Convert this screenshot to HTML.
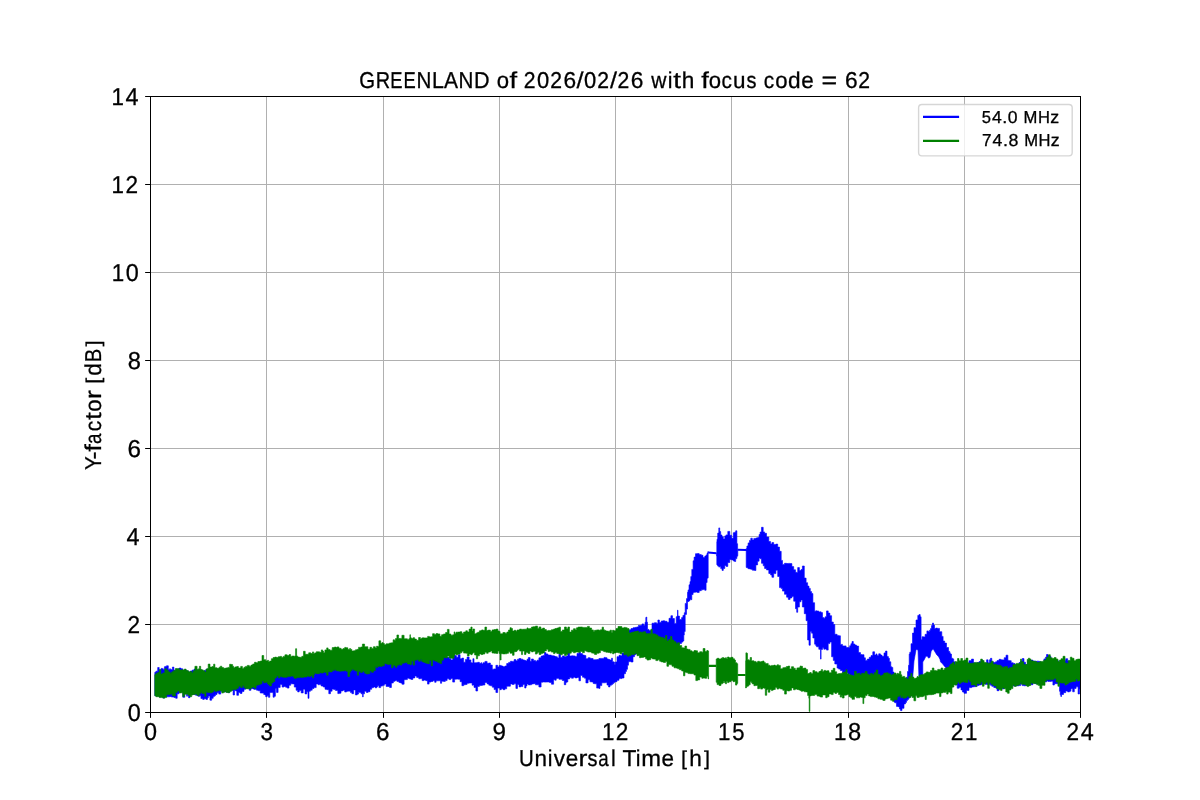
<!DOCTYPE html>
<html><head><meta charset="utf-8"><style>
html,body{margin:0;padding:0;background:#fff;}
svg{display:block;will-change:transform;}
text{font-family:"Liberation Sans",sans-serif;fill:#000;text-rendering:geometricPrecision;stroke:#000;stroke-width:0.3px;}
</style></head><body>
<svg width="1200" height="800" viewBox="0 0 1200 800">
<rect x="0" y="0" width="1200" height="800" fill="#fff"/>
<g stroke="#b0b0b0" stroke-width="1"><line x1="266.5" y1="96" x2="266.5" y2="712"/><line x1="383.5" y1="96" x2="383.5" y2="712"/><line x1="499.5" y1="96" x2="499.5" y2="712"/><line x1="615.5" y1="96" x2="615.5" y2="712"/><line x1="731.5" y1="96" x2="731.5" y2="712"/><line x1="848.5" y1="96" x2="848.5" y2="712"/><line x1="964.5" y1="96" x2="964.5" y2="712"/><line x1="150" y1="624.5" x2="1080" y2="624.5"/><line x1="150" y1="536.5" x2="1080" y2="536.5"/><line x1="150" y1="448.5" x2="1080" y2="448.5"/><line x1="150" y1="360.5" x2="1080" y2="360.5"/><line x1="150" y1="272.5" x2="1080" y2="272.5"/><line x1="150" y1="184.5" x2="1080" y2="184.5"/></g>
<path d="M154.8,672.3 155.9,672.3 155.9,671.2 157.7,671.2 157.7,667.5 159.2,667.5 159.2,670.2 161.0,670.2 161.0,668.4 162.5,668.4 162.5,668.8 163.4,668.8 163.4,669.7 164.4,669.7 164.4,666.7 165.2,666.7 165.2,666.4 166.5,666.4 166.5,665.8 168.3,665.8 168.3,669.4 169.6,669.4 169.6,668.8 170.5,668.8 170.5,669.4 171.5,669.4 171.5,669.7 172.4,669.7 172.4,667.1 173.9,667.1 173.9,670.3 175.7,670.3 175.7,669.6 177.2,669.6 177.2,669.0 179.0,669.0 179.0,668.1 181.0,668.1 181.0,668.8 182.8,668.8 182.8,671.0 184.8,671.0 184.8,670.1 186.6,670.1 186.6,671.2 187.6,671.2 187.6,671.0 188.5,671.0 188.5,672.8 190.0,672.8 190.0,671.1 192.0,671.1 192.0,670.2 194.0,670.2 194.0,669.1 195.6,669.1 195.6,669.4 197.1,669.4 197.1,670.1 198.5,670.1 198.5,669.8 199.4,669.8 199.4,669.7 200.9,669.7 200.9,670.2 202.7,670.2 202.7,671.7 204.2,671.7 204.2,670.4 206.0,670.4 206.0,669.1 207.5,669.1 207.5,669.7 208.4,669.7 208.4,670.8 209.9,670.8 209.9,669.7 211.7,669.7 211.7,669.3 213.2,669.3 213.2,669.5 214.5,669.5 214.5,669.6 215.5,669.6 215.5,670.3 217.0,670.3 217.0,669.0 218.8,669.0 218.8,670.8 220.8,670.8 220.8,668.9 222.6,668.9 222.6,669.6 224.1,669.6 224.1,670.3 225.5,670.3 225.5,668.5 226.4,668.5 226.4,670.4 227.7,670.4 227.7,670.0 229.8,670.0 229.8,669.0 231.6,669.0 231.6,667.3 233.1,667.3 233.1,669.1 234.5,669.1 234.5,668.6 235.5,668.6 235.5,668.5 236.8,668.5 236.8,669.6 238.5,669.6 238.5,670.6 240.2,670.6 240.2,669.2 242.0,669.2 242.0,669.5 244.0,669.5 244.0,668.6 245.8,668.6 245.8,668.3 247.5,668.3 247.5,672.1 249.2,672.1 249.2,675.3 251.0,675.3 251.0,679.3 252.9,679.3 252.9,680.0 254.4,680.0 254.4,681.1 255.3,681.1 255.3,681.3 256.5,681.3 256.5,682.2 258.3,682.2 258.3,682.2 260.2,682.2 260.2,679.2 262.0,679.2 262.0,679.7 263.7,679.7 263.7,678.8 264.8,678.8 264.8,678.3 265.7,678.3 265.7,675.0 267.2,675.0 267.2,676.8 268.5,676.8 268.5,676.9 269.8,676.9 269.8,676.5 271.5,676.5 271.5,675.6 273.1,675.6 273.1,675.2 274.3,675.2 274.3,674.5 275.4,674.5 275.4,673.9 276.5,673.9 276.5,675.4 278.1,675.4 278.1,673.5 280.2,673.5 280.2,673.3 282.1,673.3 282.1,672.6 283.8,672.6 283.8,672.6 285.6,672.6 285.6,672.2 287.2,672.2 287.2,672.2 289.0,672.2 289.0,672.6 290.7,672.6 290.7,672.5 292.5,672.5 292.5,672.3 294.3,672.3 294.3,672.8 296.1,672.8 296.1,671.9 297.7,671.9 297.7,672.1 299.2,672.1 299.2,672.3 301.2,672.3 301.2,671.7 303.2,671.7 303.2,671.7 305.0,671.7 305.0,671.7 306.8,671.7 306.8,671.2 308.0,671.2 308.0,671.0 309.0,671.0 309.0,670.6 310.4,670.6 310.4,672.2 312.2,672.2 312.2,670.2 314.0,670.2 314.0,671.2 316.2,671.2 316.2,669.1 318.1,669.1 318.1,669.9 319.3,669.9 319.3,668.6 321.1,668.6 321.1,666.5 323.2,666.5 323.2,668.2 325.0,668.2 325.0,668.4 326.7,668.4 326.7,666.2 328.8,666.2 328.8,667.7 330.5,667.7 330.5,664.4 332.1,664.4 332.1,669.0 333.7,669.0 333.7,667.3 335.5,667.3 335.5,663.2 337.8,663.2 337.8,667.1 339.4,667.1 339.4,667.2 341.0,667.2 341.0,667.7 342.9,667.7 342.9,668.1 344.7,668.1 344.7,667.4 346.5,667.4 346.5,668.5 348.3,668.5 348.3,667.5 349.6,667.5 349.6,667.1 350.5,667.1 350.5,662.7 351.9,662.7 351.9,662.8 353.6,662.8 353.6,667.0 355.4,667.0 355.4,666.9 357.3,666.9 357.3,663.3 358.6,663.3 358.6,667.2 359.5,667.2 359.5,667.4 361.1,667.4 361.1,667.2 362.6,667.2 362.6,666.9 363.2,666.9 363.2,666.7 364.5,666.7 364.5,667.5 366.3,667.5 366.3,666.6 368.1,666.6 368.1,665.6 370.0,665.6 370.0,666.1 371.7,666.1 371.7,661.4 373.5,661.4 373.5,659.0 375.3,659.0 375.3,664.2 376.6,664.2 376.6,663.1 377.5,663.1 377.5,659.3 378.9,659.3 378.9,663.7 380.7,663.7 380.7,663.8 382.6,663.8 382.6,662.3 384.4,662.3 384.4,659.1 386.1,659.1 386.1,658.9 387.9,658.9 387.9,660.7 389.6,660.7 389.6,662.0 391.4,662.0 391.4,658.6 393.3,658.6 393.3,661.3 394.6,661.3 394.6,661.3 395.5,661.3 395.5,660.7 396.9,660.7 396.9,662.0 398.9,662.0 398.9,660.1 400.3,660.1 400.3,660.1 401.9,660.1 401.9,657.0 404.1,657.0 404.1,661.2 405.6,661.2 405.6,659.1 407.4,659.1 407.4,661.0 409.5,661.0 409.5,659.6 411.1,659.6 411.1,658.4 412.9,658.4 412.9,656.0 414.9,656.0 414.9,657.8 416.6,657.8 416.6,657.2 418.8,657.2 418.8,657.2 420.6,657.2 420.6,654.0 422.1,654.0 422.1,657.0 424.0,657.0 424.0,658.0 425.7,658.0 425.7,656.7 427.5,656.7 427.5,654.1 429.1,654.1 429.1,656.0 430.9,656.0 430.9,656.3 432.9,656.3 432.9,656.5 434.7,656.5 434.7,655.3 436.1,655.3 436.1,655.6 437.9,655.6 437.9,657.6 439.6,657.6 439.6,655.2 440.5,655.2 440.5,656.9 441.6,656.9 441.6,655.6 443.4,655.6 443.4,656.1 445.3,656.1 445.3,656.7 447.1,656.7 447.1,657.3 449.1,657.3 449.1,658.6 450.9,658.6 450.9,659.9 452.7,659.9 452.7,652.0 454.6,652.0 454.6,655.6 456.4,655.6 456.4,657.3 458.1,657.3 458.1,654.7 460.1,654.7 460.1,658.8 461.9,658.8 461.9,658.1 463.6,658.1 463.6,662.2 465.4,662.2 465.4,659.4 467.1,659.4 467.1,657.0 469.1,657.0 469.1,659.9 470.9,659.9 470.9,662.7 472.1,662.7 472.1,663.0 472.9,663.0 472.9,658.7 474.0,658.7 474.0,662.8 475.9,662.8 475.9,662.7 477.6,662.7 477.6,662.3 479.4,662.3 479.4,663.3 481.1,663.3 481.1,662.7 481.9,662.7 481.9,663.9 483.0,663.9 483.0,662.7 484.9,662.7 484.9,661.4 487.1,661.4 487.1,663.3 488.8,663.3 488.8,663.0 490.4,663.0 490.4,665.0 492.3,665.0 492.3,669.2 494.1,669.2 494.1,668.9 495.9,668.9 495.9,665.3 497.7,665.3 497.7,666.9 499.1,666.9 499.1,665.5 499.9,665.5 499.9,665.4 501.3,665.4 501.3,666.1 503.1,666.1 503.1,666.7 504.9,666.7 504.9,666.0 506.7,666.0 506.7,663.5 508.6,663.5 508.6,662.4 510.4,662.4 510.4,661.3 512.1,661.3 512.1,661.4 514.1,661.4 514.1,659.6 515.9,659.6 515.9,660.8 517.5,660.8 517.5,659.2 519.0,659.2 519.0,658.5 520.9,658.5 520.9,659.2 522.9,659.2 522.9,660.0 524.7,660.0 524.7,660.6 526.0,660.6 526.0,660.9 527.0,660.9 527.0,659.3 528.3,659.3 528.3,657.6 530.1,657.6 530.1,661.3 531.5,661.3 531.5,659.0 533.4,659.0 533.4,660.4 535.5,660.4 535.5,661.3 537.0,661.3 537.0,660.2 538.9,660.2 538.9,657.8 541.1,657.8 541.1,656.1 542.8,656.1 542.8,655.6 544.4,655.6 544.4,652.6 546.0,652.6 546.0,653.9 547.9,653.9 547.9,655.0 549.5,655.0 549.5,655.1 551.4,655.1 551.4,655.7 553.6,655.7 553.6,656.0 555.0,656.0 555.0,656.6 556.2,656.6 556.2,656.8 557.4,656.8 557.4,657.9 558.9,657.9 558.9,654.3 560.5,654.3 560.5,657.5 562.3,657.5 562.3,655.9 564.3,655.9 564.3,656.7 565.8,656.7 565.8,656.4 566.6,656.4 566.6,656.1 567.8,656.1 567.8,652.7 569.7,652.7 569.7,656.1 571.5,656.1 571.5,655.8 573.4,655.8 573.4,655.9 575.1,655.9 575.1,656.4 577.0,656.4 577.0,653.5 578.9,653.5 578.9,652.3 580.5,652.3 580.5,653.6 582.5,653.6 582.5,655.0 584.4,655.0 584.4,655.6 585.9,655.6 585.9,658.7 588.1,658.7 588.1,657.7 589.9,657.7 589.9,658.2 591.3,658.2 591.3,658.5 593.1,658.5 593.1,659.8 594.5,659.8 594.5,659.7 596.7,659.7 596.7,659.5 598.9,659.5 598.9,658.5 600.0,658.5 600.0,658.4 601.8,658.4 601.8,658.4 604.0,658.4 604.0,657.4 605.5,657.4 605.5,657.7 607.0,657.7 607.0,659.0 608.5,659.0 608.5,659.6 610.0,659.6 610.0,660.0 611.5,660.0 611.5,658.2 612.5,658.2 612.5,661.7 613.5,661.7 613.5,662.0 614.5,662.0 614.5,664.6 615.5,664.6 615.5,661.9 617.0,661.9 617.0,656.7 619.0,656.7 619.0,655.3 620.5,655.3 620.5,655.8 622.0,655.8 622.0,653.1 624.0,653.1 624.0,644.3 625.5,644.3 625.5,640.0 626.5,640.0 626.5,635.7 627.5,635.7 627.5,630.4 628.5,630.4 628.5,630.2 629.5,630.2 629.5,629.7 631.0,629.7 631.0,628.5 633.0,628.5 633.0,627.7 634.5,627.7 634.5,627.6 635.5,627.6 635.5,627.3 637.0,627.3 637.0,626.9 638.5,626.9 638.5,625.3 639.5,625.3 639.5,625.8 640.5,625.8 640.5,625.3 642.0,625.3 642.0,623.9 643.7,623.9 643.7,625.2 645.0,625.2 645.0,622.3 645.8,622.3 645.8,617.6 646.3,617.6 646.3,617.0 646.8,617.0 646.8,622.2 647.5,622.2 647.5,629.4 649.0,629.4 649.0,630.4 650.5,630.4 650.5,630.6 652.0,630.6 652.0,623.2 654.5,623.2 654.5,622.7 656.5,622.7 656.5,623.6 657.9,623.6 657.9,620.0 659.4,620.0 659.4,622.5 661.2,622.5 661.2,621.0 663.0,621.0 663.0,620.8 664.8,620.8 664.8,621.3 667.0,621.3 667.0,622.3 669.0,622.3 669.0,618.3 670.9,618.3 670.9,615.7 672.5,615.7 672.5,618.5 674.4,618.5 674.4,623.4 676.2,623.4 676.2,616.8 677.1,616.8 677.1,616.0 677.5,616.0 677.5,610.2 678.0,610.2 678.0,616.1 679.5,616.1 679.5,619.6 680.9,619.6 680.9,619.4 681.6,619.4 681.6,617.6 682.9,617.6 682.9,615.5 683.8,615.5 683.8,615.1 684.3,615.1 684.3,612.7 685.2,612.7 685.2,603.4 686.5,603.4 686.5,598.6 687.5,598.6 687.5,592.2 688.1,592.2 688.1,589.9 689.0,589.9 689.0,584.8 690.0,584.8 690.0,581.6 690.8,581.6 690.8,576.6 691.8,576.6 691.8,569.4 693.1,569.4 693.1,560.8 694.1,560.8 694.1,557.1 695.5,557.1 695.5,553.7 697.2,553.7 697.2,553.6 699.2,553.6 699.2,554.6 701.3,554.6 701.3,555.3 703.0,555.3 703.0,557.5 704.8,557.5 704.8,556.1 706.1,556.1 706.1,554.9 707.1,554.9 707.1,553.1 707.9,553.1 707.9,551.6 708.2,551.6 L708.2,577.8 707.9,577.8 707.9,578.2 707.1,578.2 707.1,582.5 706.1,582.5 706.1,590.3 704.8,590.3 704.8,589.6 703.0,589.6 703.0,589.8 701.3,589.8 701.3,590.7 699.2,590.7 699.2,592.5 697.2,592.5 697.2,592.0 695.5,592.0 695.5,592.3 694.1,592.3 694.1,592.5 693.1,592.5 693.1,594.5 691.8,594.5 691.8,599.7 690.8,599.7 690.8,599.2 690.0,599.2 690.0,600.7 689.0,600.7 689.0,601.5 688.1,601.5 688.1,601.4 687.5,601.4 687.5,609.1 686.5,609.1 686.5,614.4 685.2,614.4 685.2,631.5 684.3,631.5 684.3,635.0 683.8,635.0 683.8,640.9 682.9,640.9 682.9,642.1 681.6,642.1 681.6,643.4 680.9,643.4 680.9,643.5 679.5,643.5 679.5,645.6 678.0,645.6 678.0,646.3 677.5,646.3 677.5,646.6 677.1,646.6 677.1,646.5 676.2,646.5 676.2,646.3 674.4,646.3 674.4,643.5 672.5,643.5 672.5,644.9 670.9,644.9 670.9,644.3 669.0,644.3 669.0,644.3 667.0,644.3 667.0,642.7 664.8,642.7 664.8,643.3 663.0,643.3 663.0,642.3 661.2,642.3 661.2,642.8 659.4,642.8 659.4,642.2 657.9,642.2 657.9,643.4 656.5,643.4 656.5,643.3 654.5,643.3 654.5,644.2 652.0,644.2 652.0,644.6 650.5,644.6 650.5,644.3 649.0,644.3 649.0,645.8 647.5,645.8 647.5,646.4 646.8,646.4 646.8,646.1 646.3,646.1 646.3,646.4 645.8,646.4 645.8,647.1 645.0,647.1 645.0,645.4 643.7,645.4 643.7,647.9 642.0,647.9 642.0,649.1 640.5,649.1 640.5,649.9 639.5,649.9 639.5,649.3 638.5,649.3 638.5,651.4 637.0,651.4 637.0,653.9 635.5,653.9 635.5,654.9 634.5,654.9 634.5,656.7 633.0,656.7 633.0,662.0 631.0,662.0 631.0,661.6 629.5,661.6 629.5,661.8 628.5,661.8 628.5,665.2 627.5,665.2 627.5,669.3 626.5,669.3 626.5,671.4 625.5,671.4 625.5,673.7 624.0,673.7 624.0,678.0 622.0,678.0 622.0,678.6 620.5,678.6 620.5,678.6 619.0,678.6 619.0,680.3 617.0,680.3 617.0,681.7 615.5,681.7 615.5,681.9 614.5,681.9 614.5,682.8 613.5,682.8 613.5,683.7 612.5,683.7 612.5,684.6 611.5,684.6 611.5,685.2 610.0,685.2 610.0,686.9 608.5,686.9 608.5,685.1 607.0,685.1 607.0,682.6 605.5,682.6 605.5,682.8 604.0,682.8 604.0,682.8 601.8,682.8 601.8,685.6 600.0,685.6 600.0,688.4 598.9,688.4 598.9,688.1 596.7,688.1 596.7,683.8 594.5,683.8 594.5,683.4 593.1,683.4 593.1,681.9 591.3,681.9 591.3,681.8 589.9,681.8 589.9,679.8 588.1,679.8 588.1,682.9 585.9,682.9 585.9,678.2 584.4,678.2 584.4,677.2 582.5,677.2 582.5,675.4 580.5,675.4 580.5,680.8 578.9,680.8 578.9,677.5 577.0,677.5 577.0,677.9 575.1,677.9 575.1,677.2 573.4,677.2 573.4,678.2 571.5,678.2 571.5,677.6 569.7,677.6 569.7,678.9 567.8,678.9 567.8,682.0 566.6,682.0 566.6,682.4 565.8,682.4 565.8,684.7 564.3,684.7 564.3,680.5 562.3,680.5 562.3,679.3 560.5,679.3 560.5,679.3 558.9,679.3 558.9,678.3 557.4,678.3 557.4,678.5 556.2,678.5 556.2,680.2 555.0,680.2 555.0,679.8 553.6,679.8 553.6,684.2 551.4,684.2 551.4,682.5 549.5,682.5 549.5,682.0 547.9,682.0 547.9,682.0 546.0,682.0 546.0,682.1 544.4,682.1 544.4,681.9 542.8,681.9 542.8,682.2 541.1,682.2 541.1,687.0 538.9,687.0 538.9,684.8 537.0,684.8 537.0,684.8 535.5,684.8 535.5,683.7 533.4,683.7 533.4,684.0 531.5,684.0 531.5,684.8 530.1,684.8 530.1,684.9 528.3,684.9 528.3,683.9 527.0,683.9 527.0,685.9 526.0,685.9 526.0,688.0 524.7,688.0 524.7,684.4 522.9,684.4 522.9,686.6 520.9,686.6 520.9,686.9 519.0,686.9 519.0,684.5 517.5,684.5 517.5,688.4 515.9,688.4 515.9,683.8 514.1,683.8 514.1,684.4 512.1,684.4 512.1,683.9 510.4,683.9 510.4,686.2 508.6,686.2 508.6,686.2 506.7,686.2 506.7,688.8 504.9,688.8 504.9,689.7 503.1,689.7 503.1,688.7 501.3,688.7 501.3,689.7 499.9,689.7 499.9,688.0 499.1,688.0 499.1,688.1 497.7,688.1 497.7,692.5 495.9,692.5 495.9,689.6 494.1,689.6 494.1,687.2 492.3,687.2 492.3,685.8 490.4,685.8 490.4,685.2 488.8,685.2 488.8,683.9 487.1,683.9 487.1,682.5 484.9,682.5 484.9,685.0 483.0,685.0 483.0,685.2 481.9,685.2 481.9,685.4 481.1,685.4 481.1,685.6 479.4,685.6 479.4,686.4 477.6,686.4 477.6,691.0 475.9,691.0 475.9,687.4 474.0,687.4 474.0,684.9 472.9,684.9 472.9,685.2 472.1,685.2 472.1,682.9 470.9,682.9 470.9,683.0 469.1,683.0 469.1,683.2 467.1,683.2 467.1,684.4 465.4,684.4 465.4,684.8 463.6,684.8 463.6,685.7 461.9,685.7 461.9,681.7 460.1,681.7 460.1,679.2 458.1,679.2 458.1,679.1 456.4,679.1 456.4,679.2 454.6,679.2 454.6,682.1 452.7,682.1 452.7,678.4 450.9,678.4 450.9,679.6 449.1,679.6 449.1,678.8 447.1,678.8 447.1,680.6 445.3,680.6 445.3,681.4 443.4,681.4 443.4,681.2 441.6,681.2 441.6,683.3 440.5,683.3 440.5,680.8 439.6,680.8 439.6,680.8 437.9,680.8 437.9,680.8 436.1,680.8 436.1,682.3 434.7,682.3 434.7,680.7 432.9,680.7 432.9,681.5 430.9,681.5 430.9,682.1 429.1,682.1 429.1,684.1 427.5,684.1 427.5,680.7 425.7,680.7 425.7,680.0 424.0,680.0 424.0,680.6 422.1,680.6 422.1,678.6 420.6,678.6 420.6,678.8 418.8,678.8 418.8,677.4 416.6,677.4 416.6,676.0 414.9,676.0 414.9,677.9 412.9,677.9 412.9,679.4 411.1,679.4 411.1,679.0 409.5,679.0 409.5,678.3 407.4,678.3 407.4,679.6 405.6,679.6 405.6,679.7 404.1,679.7 404.1,684.2 401.9,684.2 401.9,682.9 400.3,682.9 400.3,682.4 398.9,682.4 398.9,681.4 396.9,681.4 396.9,680.6 395.5,680.6 395.5,680.9 394.6,680.9 394.6,681.4 393.3,681.4 393.3,683.0 391.4,683.0 391.4,687.5 389.6,687.5 389.6,686.5 387.9,686.5 387.9,686.4 386.1,686.4 386.1,684.1 384.4,684.1 384.4,685.3 382.6,685.3 382.6,686.1 380.7,686.1 380.7,687.6 378.9,687.6 378.9,685.7 377.5,685.7 377.5,687.0 376.6,687.0 376.6,687.9 375.3,687.9 375.3,686.9 373.5,686.9 373.5,687.7 371.7,687.7 371.7,689.3 370.0,689.3 370.0,691.7 368.1,691.7 368.1,692.4 366.3,692.4 366.3,691.2 364.5,691.2 364.5,693.8 363.2,693.8 363.2,696.9 362.6,696.9 362.6,693.8 361.1,693.8 361.1,692.6 359.5,692.6 359.5,692.1 358.6,692.1 358.6,694.1 357.3,694.1 357.3,694.9 355.4,694.9 355.4,689.9 353.6,689.9 353.6,693.7 351.9,693.7 351.9,692.6 350.5,692.6 350.5,691.3 349.6,691.3 349.6,691.1 348.3,691.1 348.3,691.3 346.5,691.3 346.5,692.0 344.7,692.0 344.7,690.3 342.9,690.3 342.9,690.9 341.0,690.9 341.0,693.2 339.4,693.2 339.4,693.6 337.8,693.6 337.8,690.5 335.5,690.5 335.5,689.6 333.7,689.6 333.7,689.1 332.1,689.1 332.1,691.2 330.5,691.2 330.5,693.7 328.8,693.7 328.8,689.7 326.7,689.7 326.7,689.3 325.0,689.3 325.0,687.0 323.2,687.0 323.2,686.0 321.1,686.0 321.1,684.6 319.3,684.6 319.3,684.8 318.1,684.8 318.1,683.9 316.2,683.9 316.2,687.6 314.0,687.6 314.0,688.5 312.2,688.5 312.2,690.2 310.4,690.2 310.4,691.3 309.0,691.3 309.0,698.3 308.0,698.3 308.0,691.8 306.8,691.8 306.8,693.9 305.0,693.9 305.0,689.2 303.2,689.2 303.2,692.9 301.2,692.9 301.2,690.6 299.2,690.6 299.2,691.9 297.7,691.9 297.7,690.3 296.1,690.3 296.1,687.1 294.3,687.1 294.3,683.9 292.5,683.9 292.5,683.8 290.7,683.8 290.7,685.3 289.0,685.3 289.0,688.1 287.2,688.1 287.2,687.2 285.6,687.2 285.6,686.4 283.8,686.4 283.8,687.1 282.1,687.1 282.1,684.6 280.2,684.6 280.2,687.4 278.1,687.4 278.1,692.4 276.5,692.4 276.5,688.5 275.4,688.5 275.4,696.3 274.3,696.3 274.3,697.2 273.1,697.2 273.1,692.6 271.5,692.6 271.5,692.4 269.8,692.4 269.8,697.3 268.5,697.3 268.5,695.7 267.2,695.7 267.2,696.7 265.7,696.7 265.7,694.9 264.8,694.9 264.8,694.5 263.7,694.5 263.7,693.1 262.0,693.1 262.0,693.0 260.2,693.0 260.2,690.8 258.3,690.8 258.3,690.2 256.5,690.2 256.5,689.2 255.3,689.2 255.3,689.5 254.4,689.5 254.4,689.0 252.9,689.0 252.9,688.5 251.0,688.5 251.0,690.3 249.2,690.3 249.2,688.2 247.5,688.2 247.5,688.4 245.8,688.4 245.8,689.2 244.0,689.2 244.0,691.4 242.0,691.4 242.0,693.4 240.2,693.4 240.2,692.6 238.5,692.6 238.5,695.3 236.8,695.3 236.8,690.9 235.5,690.9 235.5,690.2 234.5,690.2 234.5,695.0 233.1,695.0 233.1,690.2 231.6,690.2 231.6,690.6 229.8,690.6 229.8,692.6 227.7,692.6 227.7,691.9 226.4,691.9 226.4,692.0 225.5,692.0 225.5,691.9 224.1,691.9 224.1,690.7 222.6,690.7 222.6,691.3 220.8,691.3 220.8,694.1 218.8,694.1 218.8,692.8 217.0,692.8 217.0,694.5 215.5,694.5 215.5,695.7 214.5,695.7 214.5,696.4 213.2,696.4 213.2,698.3 211.7,698.3 211.7,700.2 209.9,700.2 209.9,696.1 208.4,696.1 208.4,697.8 207.5,697.8 207.5,699.4 206.0,699.4 206.0,698.7 204.2,698.7 204.2,699.4 202.7,699.4 202.7,698.5 200.9,698.5 200.9,695.8 199.4,695.8 199.4,696.4 198.5,696.4 198.5,695.7 197.1,695.7 197.1,695.3 195.6,695.3 195.6,694.6 194.0,694.6 194.0,694.4 192.0,694.4 192.0,693.9 190.0,693.9 190.0,697.7 188.5,697.7 188.5,693.4 187.6,693.4 187.6,696.2 186.6,696.2 186.6,692.6 184.8,692.6 184.8,697.3 182.8,697.3 182.8,691.7 181.0,691.7 181.0,692.6 179.0,692.6 179.0,693.8 177.2,693.8 177.2,698.3 175.7,698.3 175.7,697.5 173.9,697.5 173.9,696.9 172.4,696.9 172.4,697.1 171.5,697.1 171.5,696.4 170.5,696.4 170.5,696.7 169.6,696.7 169.6,696.8 168.3,696.8 168.3,696.8 166.5,696.8 166.5,696.7 165.2,696.7 165.2,696.9 164.4,696.9 164.4,698.2 163.4,698.2 163.4,697.3 162.5,697.3 162.5,695.1 161.0,695.1 161.0,697.0 159.2,697.0 159.2,695.6 157.7,695.6 157.7,696.0 155.9,696.0 155.9,695.8 154.8,695.8 Z M716.5,553.1 716.8,553.1 716.8,541.8 717.0,541.8 717.0,539.2 717.7,539.2 717.7,533.1 718.8,533.1 718.8,527.9 719.7,527.9 719.7,531.6 720.7,531.6 720.7,535.0 722.0,535.0 722.0,536.8 723.3,536.8 723.3,538.9 724.8,538.9 724.8,535.9 726.1,535.9 726.1,534.9 727.8,534.9 727.8,531.4 729.8,531.4 729.8,535.3 731.6,535.3 731.6,538.3 733.3,538.3 733.3,532.7 734.6,532.7 734.6,532.2 735.7,532.2 735.7,530.8 736.9,530.8 736.9,543.7 737.6,543.7 737.6,549.0 737.8,549.0 L737.8,555.8 737.6,555.8 737.6,556.2 736.9,556.2 736.9,558.6 735.7,558.6 735.7,561.5 734.6,561.5 734.6,561.0 733.3,561.0 733.3,559.9 731.6,559.9 731.6,559.5 729.8,559.5 729.8,562.5 727.8,562.5 727.8,566.4 726.1,566.4 726.1,565.5 724.8,565.5 724.8,568.5 723.3,568.5 723.3,570.4 722.0,570.4 722.0,568.6 720.7,568.6 720.7,566.5 719.7,566.5 719.7,567.1 718.8,567.1 718.8,566.1 717.7,566.1 717.7,565.0 717.0,565.0 717.0,564.6 716.8,564.6 716.8,556.0 716.5,556.0 Z M746.0,549.5 746.2,549.5 746.2,548.4 746.9,548.4 746.9,546.0 748.1,546.0 748.1,542.9 749.5,542.9 749.5,540.4 750.8,540.4 750.8,538.2 752.3,538.2 752.3,540.1 753.8,540.1 753.8,538.4 754.6,538.4 754.6,538.6 755.9,538.6 755.9,537.9 757.6,537.9 757.6,537.5 759.1,537.5 759.1,534.5 760.1,534.5 760.1,532.0 761.5,532.0 761.5,527.3 763.2,527.3 763.2,531.9 764.6,531.9 764.6,533.3 766.5,533.3 766.5,537.0 768.8,537.0 768.8,541.5 770.6,541.5 770.6,544.0 771.9,544.0 771.9,542.6 773.7,542.6 773.7,544.6 775.9,544.6 775.9,544.1 777.7,544.1 777.7,547.1 779.5,547.1 779.5,551.3 781.2,551.3 781.2,560.4 782.5,560.4 782.5,564.4 784.5,564.4 784.5,563.3 786.6,563.3 786.6,563.5 788.3,563.5 788.3,563.4 790.1,563.4 790.1,563.6 791.9,563.6 791.9,566.6 793.7,566.6 793.7,569.8 795.5,569.8 795.5,572.3 796.7,572.3 796.7,572.4 797.7,572.4 797.7,567.6 799.4,567.6 799.4,570.6 801.0,570.6 801.0,569.6 802.4,569.6 802.4,566.0 804.3,566.0 804.3,578.1 806.1,578.1 806.1,582.7 807.6,582.7 807.6,586.1 809.0,586.1 809.0,588.4 810.3,588.4 810.3,591.6 811.6,591.6 811.6,593.6 812.9,593.6 812.9,602.7 814.6,602.7 814.6,611.3 815.8,611.3 815.8,610.7 816.6,610.7 816.6,611.0 818.8,611.0 818.8,611.9 820.5,611.9 820.5,611.7 821.1,611.7 821.1,612.6 822.5,612.6 822.5,617.6 823.8,617.6 823.8,618.2 825.1,618.2 825.1,616.8 826.5,616.8 826.5,610.9 828.2,610.9 828.2,613.1 829.9,613.1 829.9,615.7 831.6,615.7 831.6,622.0 833.3,622.0 833.3,624.5 834.8,624.5 834.8,634.3 837.1,634.3 837.1,635.4 838.6,635.4 838.6,635.8 840.4,635.8 840.4,644.4 842.5,644.4 842.5,645.9 844.3,645.9 844.3,645.9 846.1,645.9 846.1,647.5 847.9,647.5 847.9,647.4 849.7,647.4 849.7,645.7 850.9,645.7 850.9,643.7 852.0,643.7 852.0,641.5 853.3,641.5 853.3,644.0 854.9,644.0 854.9,645.1 856.5,645.1 856.5,646.1 858.6,646.1 858.6,652.6 860.5,652.6 860.5,654.6 862.1,654.6 862.1,654.7 864.0,654.7 864.0,657.8 865.4,657.8 865.4,660.4 867.3,660.4 867.3,659.1 869.3,659.1 869.3,657.3 871.0,657.3 871.0,655.6 872.8,655.6 872.8,651.8 874.6,651.8 874.6,655.1 876.0,655.1 876.0,653.9 877.0,653.9 877.0,655.4 878.7,655.4 878.7,653.8 880.0,653.8 880.0,653.9 880.5,653.9 880.5,655.1 882.0,655.1 882.0,656.3 884.0,656.3 884.0,652.9 885.5,652.9 885.5,651.1 887.0,651.1 887.0,656.6 888.4,656.6 888.4,658.3 889.4,658.3 889.4,661.8 890.8,661.8 890.8,666.8 891.8,666.8 891.8,667.4 892.8,667.4 892.8,672.1 894.0,672.1 894.0,675.2 894.8,675.2 894.8,675.6 896.5,675.6 896.5,676.9 898.5,676.9 898.5,679.0 899.5,679.0 899.5,678.2 900.5,678.2 900.5,678.4 902.0,678.4 902.0,679.2 904.0,679.2 904.0,679.7 905.5,679.7 905.5,680.6 906.5,680.6 906.5,677.2 907.5,677.2 907.5,671.5 908.5,671.5 908.5,665.3 909.2,665.3 909.2,654.1 909.8,654.1 909.8,652.2 911.0,652.2 911.0,643.7 912.5,643.7 912.5,633.1 914.0,633.1 914.0,627.7 916.0,627.7 916.0,620.0 917.8,620.0 917.8,615.4 919.0,615.4 919.0,614.6 920.2,614.6 920.2,616.8 921.1,616.8 921.1,639.4 922.1,639.4 922.1,636.7 923.6,636.7 923.6,636.9 925.1,636.9 925.1,634.3 926.9,634.3 926.9,630.9 928.4,630.9 928.4,631.7 929.5,631.7 929.5,630.2 930.5,630.2 930.5,628.6 931.5,628.6 931.5,625.6 932.5,625.6 932.5,623.0 933.5,623.0 933.5,625.1 934.5,625.1 934.5,628.4 935.9,628.4 935.9,628.1 937.4,628.1 937.4,628.4 939.5,628.4 939.5,631.7 941.8,631.7 941.8,636.4 943.1,636.4 943.1,641.1 944.7,641.1 944.7,643.1 946.5,643.1 946.5,647.5 948.5,647.5 948.5,651.3 949.7,651.3 949.7,652.8 950.3,652.8 950.3,654.1 951.5,654.1 951.5,658.2 952.8,658.2 952.8,658.9 953.7,658.9 953.7,661.8 955.2,661.8 955.2,666.7 957.2,666.7 957.2,667.8 959.2,667.8 959.2,667.5 961.0,667.5 961.0,666.6 962.5,666.6 962.5,666.3 964.0,666.3 964.0,665.1 966.5,665.1 966.5,662.9 969.0,662.9 969.0,660.7 970.5,660.7 970.5,660.6 971.5,660.6 971.5,659.1 973.5,659.1 973.5,662.8 975.5,662.8 975.5,664.1 977.1,664.1 977.1,662.6 979.1,662.6 979.1,661.5 981.0,661.5 981.0,660.0 982.8,660.0 982.8,663.1 984.8,663.1 984.8,664.6 986.6,664.6 986.6,659.8 988.1,659.8 988.1,662.7 989.5,662.7 989.5,659.7 990.5,659.7 990.5,658.3 991.8,658.3 991.8,661.9 993.8,661.9 993.8,662.6 995.5,662.6 995.5,661.8 997.0,661.8 997.0,660.6 999.0,660.6 999.0,659.3 1000.8,659.3 1000.8,659.8 1002.5,659.8 1002.5,659.9 1004.2,659.9 1004.2,657.7 1006.0,657.7 1006.0,655.2 1007.9,655.2 1007.9,660.4 1009.4,660.4 1009.4,660.7 1011.2,660.7 1011.2,662.7 1013.2,662.7 1013.2,663.5 1015.0,663.5 1015.0,664.4 1017.0,664.4 1017.0,665.7 1019.0,665.7 1019.0,662.5 1020.7,662.5 1020.7,661.0 1022.2,661.0 1022.2,658.6 1024.0,658.6 1024.0,662.2 1025.5,662.2 1025.5,664.5 1027.5,664.5 1027.5,660.6 1029.7,660.6 1029.7,660.2 1031.2,660.2 1031.2,660.1 1033.0,660.1 1033.0,661.3 1034.5,661.3 1034.5,660.9 1035.5,660.9 1035.5,661.4 1036.8,661.4 1036.8,661.2 1038.8,661.2 1038.8,661.4 1040.6,661.4 1040.6,662.9 1042.1,662.9 1042.1,663.0 1043.9,663.0 1043.9,658.9 1045.4,658.9 1045.4,657.2 1046.5,657.2 1046.5,654.5 1048.0,654.5 1048.0,655.7 1049.5,655.7 1049.5,656.4 1051.0,656.4 1051.0,659.8 1052.9,659.8 1052.9,661.5 1054.4,661.5 1054.4,660.5 1056.2,660.5 1056.2,660.4 1058.2,660.4 1058.2,661.7 1059.5,661.7 1059.5,662.5 1060.2,662.5 1060.2,662.2 1060.8,662.2 1060.8,662.2 1061.5,662.2 1061.5,661.3 1063.5,661.3 1063.5,660.5 1065.7,660.5 1065.7,658.7 1067.7,658.7 1067.7,661.0 1069.5,661.0 1069.5,661.3 1070.9,661.3 1070.9,663.3 1072.7,663.3 1072.7,661.5 1074.3,661.5 1074.3,662.4 1076.1,662.4 1076.1,663.0 1078.1,663.0 1078.1,665.2 1079.5,665.2 1079.5,663.3 1080.0,663.3 L1080.0,689.3 1079.5,689.3 1079.5,694.0 1078.1,694.0 1078.1,686.8 1076.1,686.8 1076.1,688.5 1074.3,688.5 1074.3,691.8 1072.7,691.8 1072.7,688.7 1070.9,688.7 1070.9,691.2 1069.5,691.2 1069.5,691.9 1067.7,691.9 1067.7,691.0 1065.7,691.0 1065.7,692.7 1063.5,692.7 1063.5,694.5 1061.5,694.5 1061.5,696.5 1060.8,696.5 1060.8,694.8 1060.2,694.8 1060.2,691.3 1059.5,691.3 1059.5,684.4 1058.2,684.4 1058.2,683.7 1056.2,683.7 1056.2,683.7 1054.4,683.7 1054.4,685.0 1052.9,685.0 1052.9,681.2 1051.0,681.2 1051.0,681.4 1049.5,681.4 1049.5,681.4 1048.0,681.4 1048.0,681.1 1046.5,681.1 1046.5,682.0 1045.4,682.0 1045.4,681.4 1043.9,681.4 1043.9,682.5 1042.1,682.5 1042.1,680.3 1040.6,680.3 1040.6,682.6 1038.8,682.6 1038.8,681.3 1036.8,681.3 1036.8,683.8 1035.5,683.8 1035.5,683.6 1034.5,683.6 1034.5,681.8 1033.0,681.8 1033.0,684.7 1031.2,684.7 1031.2,683.9 1029.7,683.9 1029.7,685.3 1027.5,685.3 1027.5,685.6 1025.5,685.6 1025.5,685.8 1024.0,685.8 1024.0,685.6 1022.2,685.6 1022.2,684.0 1020.7,684.0 1020.7,685.6 1019.0,685.6 1019.0,685.8 1017.0,685.8 1017.0,685.9 1015.0,685.9 1015.0,686.0 1013.2,686.0 1013.2,684.8 1011.2,684.8 1011.2,685.5 1009.4,685.5 1009.4,684.9 1007.9,684.9 1007.9,687.4 1006.0,687.4 1006.0,685.8 1004.2,685.8 1004.2,688.9 1002.5,688.9 1002.5,686.0 1000.8,686.0 1000.8,685.8 999.0,685.8 999.0,690.7 997.0,690.7 997.0,688.0 995.5,688.0 995.5,687.5 993.8,687.5 993.8,686.3 991.8,686.3 991.8,685.3 990.5,685.3 990.5,684.6 989.5,684.6 989.5,683.7 988.1,683.7 988.1,684.4 986.6,684.4 986.6,684.3 984.8,684.3 984.8,682.8 982.8,682.8 982.8,684.4 981.0,684.4 981.0,684.9 979.1,684.9 979.1,685.4 977.1,685.4 977.1,686.6 975.5,686.6 975.5,686.7 973.5,686.7 973.5,687.0 971.5,687.0 971.5,687.7 970.5,687.7 970.5,687.6 969.0,687.6 969.0,690.4 966.5,690.4 966.5,693.3 964.0,693.3 964.0,692.0 962.5,692.0 962.5,689.9 961.0,689.9 961.0,687.3 959.2,687.3 959.2,688.2 957.2,688.2 957.2,684.9 955.2,684.9 955.2,683.9 953.7,683.9 953.7,683.4 952.8,683.4 952.8,684.6 951.5,684.6 951.5,688.2 950.3,688.2 950.3,689.4 949.7,689.4 949.7,689.4 948.5,689.4 948.5,689.8 946.5,689.8 946.5,689.5 944.7,689.5 944.7,689.6 943.1,689.6 943.1,689.4 941.8,689.4 941.8,689.6 939.5,689.6 939.5,689.2 937.4,689.2 937.4,689.5 935.9,689.5 935.9,689.5 934.5,689.5 934.5,689.8 933.5,689.8 933.5,689.9 932.5,689.9 932.5,689.7 931.5,689.7 931.5,689.2 930.5,689.2 930.5,689.9 929.5,689.9 929.5,689.6 928.4,689.6 928.4,693.8 926.9,693.8 926.9,689.3 925.1,689.3 925.1,690.3 923.6,690.3 923.6,689.7 922.1,689.7 922.1,689.9 921.1,689.9 921.1,689.9 920.2,689.9 920.2,689.9 919.0,689.9 919.0,689.7 917.8,689.7 917.8,689.4 916.0,689.4 916.0,689.4 914.0,689.4 914.0,689.8 912.5,689.8 912.5,689.6 911.0,689.6 911.0,696.8 909.8,696.8 909.8,697.6 909.2,697.6 909.2,698.5 908.5,698.5 908.5,699.5 907.5,699.5 907.5,700.6 906.5,700.6 906.5,702.4 905.5,702.4 905.5,703.9 904.0,703.9 904.0,708.3 902.0,708.3 902.0,710.6 900.5,710.6 900.5,709.0 899.5,709.0 899.5,706.9 898.5,706.9 898.5,706.4 896.5,706.4 896.5,702.8 894.8,702.8 894.8,702.1 894.0,702.1 894.0,699.3 892.8,699.3 892.8,698.0 891.8,698.0 891.8,697.2 890.8,697.2 890.8,694.9 889.4,694.9 889.4,695.9 888.4,695.9 888.4,696.0 887.0,696.0 887.0,691.8 885.5,691.8 885.5,689.5 884.0,689.5 884.0,686.2 882.0,686.2 882.0,682.5 880.5,682.5 880.5,681.7 880.0,681.7 880.0,681.7 878.7,681.7 878.7,680.0 877.0,680.0 877.0,680.9 876.0,680.9 876.0,680.6 874.6,680.6 874.6,680.0 872.8,680.0 872.8,682.7 871.0,682.7 871.0,678.5 869.3,678.5 869.3,678.6 867.3,678.6 867.3,678.3 865.4,678.3 865.4,677.5 864.0,677.5 864.0,677.9 862.1,677.9 862.1,677.5 860.5,677.5 860.5,678.0 858.6,678.0 858.6,677.2 856.5,677.2 856.5,675.6 854.9,675.6 854.9,676.4 853.3,676.4 853.3,675.7 852.0,675.7 852.0,675.7 850.9,675.7 850.9,675.0 849.7,675.0 849.7,674.3 847.9,674.3 847.9,672.8 846.1,672.8 846.1,672.9 844.3,672.9 844.3,672.8 842.5,672.8 842.5,670.5 840.4,670.5 840.4,669.1 838.6,669.1 838.6,668.1 837.1,668.1 837.1,664.0 834.8,664.0 834.8,660.4 833.3,660.4 833.3,656.8 831.6,656.8 831.6,642.0 829.9,642.0 829.9,643.6 828.2,643.6 828.2,650.1 826.5,650.1 826.5,649.0 825.1,649.0 825.1,649.2 823.8,649.2 823.8,647.8 822.5,647.8 822.5,649.5 821.1,649.5 821.1,659.1 820.5,659.1 820.5,649.3 818.8,649.3 818.8,646.8 816.6,646.8 816.6,645.7 815.8,645.7 815.8,644.2 814.6,644.2 814.6,638.0 812.9,638.0 812.9,633.2 811.6,633.2 811.6,631.4 810.3,631.4 810.3,645.2 809.0,645.2 809.0,640.0 807.6,640.0 807.6,620.7 806.1,620.7 806.1,613.7 804.3,613.7 804.3,607.0 802.4,607.0 802.4,599.9 801.0,599.9 801.0,601.8 799.4,601.8 799.4,607.1 797.7,607.1 797.7,612.3 796.7,612.3 796.7,608.7 795.5,608.7 795.5,601.2 793.7,601.2 793.7,596.4 791.9,596.4 791.9,597.9 790.1,597.9 790.1,599.4 788.3,599.4 788.3,597.2 786.6,597.2 786.6,594.3 784.5,594.3 784.5,591.1 782.5,591.1 782.5,588.6 781.2,588.6 781.2,587.6 779.5,587.6 779.5,576.5 777.7,576.5 777.7,570.2 775.9,570.2 775.9,573.6 773.7,573.6 773.7,577.3 771.9,577.3 771.9,575.0 770.6,575.0 770.6,573.5 768.8,573.5 768.8,569.9 766.5,569.9 766.5,568.5 764.6,568.5 764.6,565.8 763.2,565.8 763.2,563.3 761.5,563.3 761.5,558.8 760.1,558.8 760.1,557.9 759.1,557.9 759.1,561.2 757.6,561.2 757.6,564.9 755.9,564.9 755.9,570.5 754.6,570.5 754.6,570.3 753.8,570.3 753.8,570.2 752.3,570.2 752.3,569.3 750.8,569.3 750.8,568.9 749.5,568.9 749.5,568.7 748.1,568.7 748.1,567.8 746.9,567.8 746.9,567.4 746.2,567.4 746.2,550.9 746.0,550.9 Z M912.5,680.0 914.0,661.0 916.0,650.0 916.5,649.5 918.0,650.0 918.5,665.0 919.0,680.0 Z M922.8,680.0 922.8,661.9 924.4,659.4 925.9,656.2 927.5,656.2 928.4,658.1 930.0,657.5 931.2,651.2 933.1,648.8 935.0,651.9 936.9,655.0 938.8,656.9 940.0,659.4 940.6,661.9 942.5,663.8 944.4,666.2 945.6,667.5 947.0,680.0 Z" fill="#0000ff" fill-rule="evenodd" stroke="#0000ff" stroke-width="0.6" stroke-linejoin="round"/>
<path d="M708.2,552.5 L716.5,553.2 M737.8,549.8 L746,550" stroke="#0000ff" stroke-width="2.1" fill="none"/>
<path d="M154.8,674.7 155.9,674.7 155.9,673.4 157.8,673.4 157.8,672.5 159.4,672.5 159.4,669.5 160.8,669.5 160.8,674.1 162.7,674.1 162.7,672.9 164.8,672.9 164.8,668.8 166.6,668.8 166.6,670.2 168.3,670.2 168.3,671.9 170.1,671.9 170.1,673.3 171.4,673.3 171.4,672.3 172.4,672.3 172.4,671.4 173.7,671.4 173.7,670.4 175.4,670.4 175.4,668.5 177.2,668.5 177.2,668.7 179.4,668.7 179.4,670.1 181.2,670.1 181.2,669.7 182.7,669.7 182.7,669.9 184.3,669.9 184.3,669.1 186.1,669.1 186.1,670.5 188.3,670.5 188.3,671.7 190.1,671.7 190.1,671.5 191.7,671.5 191.7,672.8 193.1,672.8 193.1,670.8 194.9,670.8 194.9,666.3 197.1,666.3 197.1,669.4 198.6,669.4 198.6,668.7 199.4,668.7 199.4,666.3 200.7,666.3 200.7,669.6 202.1,669.6 202.1,669.9 203.3,669.9 203.3,670.7 204.7,670.7 204.7,672.1 206.1,672.1 206.1,669.1 207.3,669.1 207.3,668.6 208.2,668.6 208.2,664.1 210.0,664.1 210.0,667.1 212.1,667.1 212.1,666.5 213.6,666.5 213.6,664.2 214.9,664.2 214.9,667.7 216.9,667.7 216.9,668.3 219.1,668.3 219.1,667.2 220.4,667.2 220.4,666.2 221.8,666.2 221.8,667.5 223.5,667.5 223.5,668.3 224.8,668.3 224.8,668.3 226.0,668.3 226.0,667.9 227.8,667.9 227.8,667.4 229.6,667.4 229.6,664.3 231.3,664.3 231.3,664.5 232.6,664.5 232.6,666.2 233.6,666.2 233.6,667.8 234.9,667.8 234.9,666.9 236.7,666.9 236.7,666.5 238.4,666.5 238.4,668.0 240.7,668.0 240.7,666.4 242.4,666.4 242.4,668.6 243.9,668.6 243.9,667.2 245.5,667.2 245.5,666.4 247.3,666.4 247.3,665.4 249.2,665.4 249.2,666.2 251.0,666.2 251.0,665.1 252.7,665.1 252.7,664.0 254.5,664.0 254.5,662.3 256.1,662.3 256.1,662.7 257.9,662.7 257.9,661.5 260.2,661.5 260.2,661.1 262.0,661.1 262.0,655.5 263.7,655.5 263.7,659.7 265.8,659.7 265.8,660.9 267.5,660.9 267.5,660.3 268.6,660.3 268.6,661.9 269.6,661.9 269.6,661.1 271.4,661.1 271.4,658.7 273.1,658.7 273.1,657.5 274.8,657.5 274.8,657.1 276.5,657.1 276.5,657.5 278.2,657.5 278.2,656.7 280.0,656.7 280.0,656.4 281.7,656.4 281.7,657.6 283.1,657.6 283.1,656.4 284.9,656.4 284.9,654.8 287.2,654.8 287.2,655.6 289.0,655.6 289.0,654.6 290.7,654.6 290.7,656.4 292.1,656.4 292.1,656.0 293.9,656.0 293.9,656.2 295.1,656.2 295.1,656.0 295.6,656.0 295.6,648.7 296.6,648.7 296.6,656.0 297.7,656.0 297.7,657.1 299.5,657.1 299.5,657.3 301.8,657.3 301.8,656.3 303.5,656.3 303.5,651.3 305.2,651.3 305.2,654.3 307.0,654.3 307.0,654.3 308.7,654.3 308.7,652.8 310.8,652.8 310.8,653.5 312.5,653.5 312.5,651.9 313.6,651.9 313.6,653.8 314.6,653.8 314.6,652.9 316.2,652.9 316.2,651.8 318.1,651.8 318.1,651.8 319.5,651.8 319.5,652.3 321.3,652.3 321.3,649.9 322.6,649.9 322.6,651.1 323.6,651.1 323.6,652.7 324.9,652.7 324.9,649.9 326.7,649.9 326.7,647.9 328.1,647.9 328.1,649.6 329.9,649.6 329.9,650.2 332.2,650.2 332.2,647.6 334.4,647.6 334.4,647.1 336.1,647.1 336.1,647.6 337.1,647.6 337.1,646.9 338.9,646.9 338.9,648.3 341.1,648.3 341.1,649.3 343.0,649.3 343.0,648.6 344.7,648.6 344.7,647.4 346.1,647.4 346.1,647.8 347.9,647.8 347.9,649.5 349.6,649.5 349.6,648.5 350.5,648.5 350.5,649.4 351.9,649.4 351.9,651.1 353.6,651.1 353.6,650.7 355.4,650.7 355.4,649.8 357.3,649.8 357.3,649.3 358.6,649.3 358.6,647.2 359.5,647.2 359.5,647.7 360.6,647.7 360.6,647.0 362.4,647.0 362.4,644.1 364.6,644.1 364.6,646.8 366.3,646.8 366.3,646.7 367.9,646.7 367.9,649.3 369.9,649.3 369.9,647.3 371.6,647.3 371.6,648.4 373.4,648.4 373.4,646.7 375.3,646.7 375.3,648.0 376.6,648.0 376.6,646.1 377.5,646.1 377.5,646.6 378.9,646.6 378.9,640.8 380.7,640.8 380.7,643.3 382.1,643.3 382.1,642.6 383.1,642.6 383.1,643.5 384.4,643.5 384.4,644.7 386.1,644.7 386.1,643.8 387.6,643.8 387.6,643.8 389.4,643.8 389.4,643.0 391.5,643.0 391.5,642.8 393.1,642.8 393.1,639.8 394.4,639.8 394.4,640.2 395.5,640.2 395.5,638.5 396.9,638.5 396.9,635.0 398.6,635.0 398.6,638.5 400.1,638.5 400.1,638.4 401.9,638.4 401.9,635.3 404.1,635.3 404.1,638.7 405.6,638.7 405.6,638.8 407.4,638.8 407.4,639.4 409.1,639.4 409.1,638.4 409.9,638.4 409.9,634.7 410.4,634.7 410.4,637.2 410.9,637.2 410.9,638.1 411.6,638.1 411.6,638.4 413.1,638.4 413.1,637.7 414.6,637.7 414.6,639.1 416.4,639.1 416.4,640.3 418.6,640.3 418.6,637.5 420.4,637.5 420.4,638.9 421.6,638.9 421.6,638.0 422.5,638.0 422.5,637.8 423.9,637.8 423.9,637.9 425.6,637.9 425.6,637.9 427.6,637.9 427.6,636.4 429.4,636.4 429.4,636.9 431.1,636.9 431.1,636.8 432.6,636.8 432.6,633.7 434.4,633.7 434.4,634.4 436.1,634.4 436.1,633.6 437.8,633.6 437.8,633.9 439.9,633.9 439.9,636.3 441.6,636.3 441.6,634.7 443.4,634.7 443.4,634.0 445.6,634.0 445.6,632.5 447.4,632.5 447.4,629.4 449.1,629.4 449.1,634.0 450.9,634.0 450.9,635.2 452.7,635.2 452.7,634.8 454.1,634.8 454.1,631.9 454.9,631.9 454.9,633.7 456.0,633.7 456.0,632.2 457.9,632.2 457.9,632.1 460.1,632.1 460.1,631.7 461.9,631.7 461.9,633.4 463.6,633.4 463.6,632.0 465.8,632.0 465.8,630.8 467.4,630.8 467.4,632.0 469.1,632.0 469.1,629.1 470.9,629.1 470.9,627.0 472.1,627.0 472.1,630.9 472.9,630.9 472.9,629.0 474.6,629.0 474.6,633.8 476.4,633.8 476.4,632.9 477.6,632.9 477.6,632.3 479.4,632.3 479.4,630.8 481.1,630.8 481.1,630.3 481.9,630.3 481.9,629.9 483.0,629.9 483.0,630.3 484.9,630.3 484.9,627.1 486.6,627.1 486.6,630.6 488.2,630.6 488.2,630.1 490.4,630.1 490.4,631.5 492.0,631.5 492.0,629.9 493.9,629.9 493.9,629.6 496.1,629.6 496.1,629.1 497.9,629.1 497.9,630.9 499.1,630.9 499.1,631.6 500.1,631.6 500.1,633.8 501.1,633.8 501.1,633.8 502.9,633.8 502.9,632.5 505.1,632.5 505.1,633.2 506.9,633.2 506.9,632.0 508.5,632.0 508.5,630.0 510.0,630.0 510.0,627.7 511.3,627.7 511.3,628.5 512.5,628.5 512.5,631.1 514.1,631.1 514.1,630.3 515.9,630.3 515.9,631.3 517.0,631.3 517.0,630.0 518.0,630.0 518.0,630.0 519.6,630.0 519.6,629.1 521.5,629.1 521.5,629.4 522.5,629.4 522.5,629.3 524.4,629.3 524.4,629.2 526.0,629.2 526.0,629.2 527.0,629.2 527.0,627.9 528.0,627.9 528.0,628.7 529.9,628.7 529.9,628.4 531.5,628.4 531.5,627.0 533.2,627.0 533.2,626.7 535.4,626.7 535.4,626.1 536.8,626.1 536.8,626.2 537.7,626.2 537.7,628.4 539.1,628.4 539.1,626.9 540.9,626.9 540.9,628.9 542.6,628.9 542.6,628.1 544.5,628.1 544.5,629.6 546.4,629.6 546.4,630.8 548.1,630.8 548.1,630.4 549.5,630.4 549.5,630.6 551.3,630.6 551.3,629.7 553.5,629.7 553.5,629.1 555.0,629.1 555.0,628.5 556.8,628.5 556.8,628.0 558.8,628.0 558.8,627.2 560.5,627.2 560.5,631.5 562.3,631.5 562.3,630.0 564.5,630.0 564.5,627.0 566.4,627.0 566.4,628.8 567.9,628.8 567.9,627.0 569.5,627.0 569.5,632.1 571.3,632.1 571.3,630.2 573.5,630.2 573.5,628.7 575.4,628.7 575.4,629.9 576.5,629.9 576.5,627.8 578.1,627.8 578.1,627.1 580.3,627.1 580.3,627.0 582.5,627.0 582.5,627.4 584.4,627.4 584.4,627.4 585.9,627.4 585.9,627.4 587.5,627.4 587.5,626.4 589.4,626.4 589.4,628.0 591.6,628.0 591.6,629.9 593.4,629.9 593.4,631.6 594.5,631.6 594.5,630.3 596.7,630.3 596.7,629.9 599.0,629.9 599.0,630.3 600.4,630.3 600.4,629.8 602.1,629.8 602.1,627.2 603.5,627.2 603.5,629.8 604.5,629.8 604.5,630.4 606.0,630.4 606.0,631.1 608.0,631.1 608.0,631.2 610.0,631.2 610.0,630.2 611.5,630.2 611.5,632.5 612.5,632.5 612.5,630.3 614.0,630.3 614.0,630.8 616.0,630.8 616.0,628.5 618.0,628.5 618.0,626.5 620.0,626.5 620.0,626.6 621.9,626.6 621.9,627.9 623.9,627.9 623.9,627.4 625.7,627.4 625.7,627.7 627.2,627.7 627.2,628.5 629.0,628.5 629.0,633.0 631.0,633.0 631.0,632.6 632.5,632.6 632.5,632.1 634.5,632.1 634.5,631.5 637.0,631.5 637.0,631.1 638.5,631.1 638.5,633.2 639.5,633.2 639.5,632.0 641.0,632.0 641.0,632.2 643.5,632.2 643.5,631.7 645.6,631.7 645.6,633.6 647.1,633.6 647.1,633.7 648.5,633.7 648.5,633.4 649.5,633.4 649.5,633.7 650.8,633.7 650.8,629.3 652.3,629.3 652.3,633.8 653.8,633.8 653.8,633.9 655.8,633.9 655.8,634.9 657.9,634.9 657.9,636.6 659.6,636.6 659.6,637.0 661.2,637.0 661.2,637.4 663.5,637.4 663.5,638.4 665.5,638.4 665.5,635.6 666.9,635.6 666.9,641.0 668.6,641.0 668.6,639.5 670.5,639.5 670.5,636.5 672.0,636.5 672.0,640.1 674.0,640.1 674.0,641.7 676.1,641.7 676.1,643.6 677.6,643.6 677.6,642.7 679.5,642.7 679.5,645.4 681.7,645.4 681.7,647.8 683.5,647.8 683.5,647.9 684.9,647.9 684.9,646.1 686.6,646.1 686.6,649.1 688.2,649.1 688.2,649.4 690.1,649.4 690.1,650.8 692.1,650.8 692.1,651.7 694.0,651.7 694.0,650.5 695.8,650.5 695.8,650.8 697.5,650.8 697.5,652.8 699.7,652.8 699.7,651.7 701.8,651.7 701.8,652.2 703.1,652.2 703.1,648.5 705.0,648.5 705.0,651.5 706.8,651.5 706.8,650.5 708.0,650.5 708.0,651.0 708.6,651.0 L708.6,678.9 708.0,678.9 708.0,676.3 706.8,676.3 706.8,678.3 705.0,678.3 705.0,678.1 703.1,678.1 703.1,678.3 701.8,678.3 701.8,677.1 699.7,677.1 699.7,679.9 697.5,679.9 697.5,680.6 695.8,680.6 695.8,675.0 694.0,675.0 694.0,673.7 692.1,673.7 692.1,673.7 690.1,673.7 690.1,673.6 688.2,673.6 688.2,672.8 686.6,672.8 686.6,672.2 684.9,672.2 684.9,675.8 683.5,675.8 683.5,671.0 681.7,671.0 681.7,669.7 679.5,669.7 679.5,668.8 677.6,668.8 677.6,668.1 676.1,668.1 676.1,667.8 674.0,667.8 674.0,666.3 672.0,666.3 672.0,664.8 670.5,664.8 670.5,664.6 668.6,664.6 668.6,666.3 666.9,666.3 666.9,661.5 665.5,661.5 665.5,662.5 663.5,662.5 663.5,661.9 661.2,661.9 661.2,661.2 659.6,661.2 659.6,659.8 657.9,659.8 657.9,660.6 655.8,660.6 655.8,659.1 653.8,659.1 653.8,658.9 652.3,658.9 652.3,657.9 650.8,657.9 650.8,659.6 649.5,659.6 649.5,659.9 648.5,659.9 648.5,660.1 647.1,660.1 647.1,658.8 645.6,658.8 645.6,656.9 643.5,656.9 643.5,657.4 641.0,657.4 641.0,657.7 639.5,657.7 639.5,655.4 638.5,655.4 638.5,655.7 637.0,655.7 637.0,653.7 634.5,653.7 634.5,654.5 632.5,654.5 632.5,654.6 631.0,654.6 631.0,655.6 629.0,655.6 629.0,656.2 627.2,656.2 627.2,654.6 625.7,654.6 625.7,654.8 623.9,654.8 623.9,652.2 621.9,652.2 621.9,653.8 620.0,653.8 620.0,652.8 618.0,652.8 618.0,652.4 616.0,652.4 616.0,652.9 614.0,652.9 614.0,653.8 612.5,653.8 612.5,651.6 611.5,651.6 611.5,653.1 610.0,653.1 610.0,652.4 608.0,652.4 608.0,652.2 606.0,652.2 606.0,651.8 604.5,651.8 604.5,651.4 603.5,651.4 603.5,650.7 602.1,650.7 602.1,650.6 600.4,650.6 600.4,652.7 599.0,652.7 599.0,653.2 596.7,653.2 596.7,654.4 594.5,654.4 594.5,653.3 593.4,653.3 593.4,653.1 591.6,653.1 591.6,652.0 589.4,652.0 589.4,652.0 587.5,652.0 587.5,651.3 585.9,651.3 585.9,650.7 584.4,650.7 584.4,652.7 582.5,652.7 582.5,651.4 580.3,651.4 580.3,652.2 578.1,652.2 578.1,652.1 576.5,652.1 576.5,651.9 575.4,651.9 575.4,652.8 573.5,652.8 573.5,651.8 571.3,651.8 571.3,653.2 569.5,653.2 569.5,653.1 567.9,653.1 567.9,654.6 566.4,654.6 566.4,655.6 564.5,655.6 564.5,653.7 562.3,653.7 562.3,654.8 560.5,654.8 560.5,654.0 558.8,654.0 558.8,653.5 556.8,653.5 556.8,652.6 555.0,652.6 555.0,653.6 553.5,653.6 553.5,652.1 551.3,652.1 551.3,651.1 549.5,651.1 549.5,651.4 548.1,651.4 548.1,649.3 546.4,649.3 546.4,650.9 544.5,650.9 544.5,652.9 542.6,652.9 542.6,653.6 540.9,653.6 540.9,654.5 539.1,654.5 539.1,652.3 537.7,652.3 537.7,653.3 536.8,653.3 536.8,654.1 535.4,654.1 535.4,651.3 533.2,651.3 533.2,651.9 531.5,651.9 531.5,651.1 529.9,651.1 529.9,653.4 528.0,653.4 528.0,652.4 527.0,652.4 527.0,652.3 526.0,652.3 526.0,654.4 524.4,654.4 524.4,651.1 522.5,651.1 522.5,654.6 521.5,654.6 521.5,651.1 519.6,651.1 519.6,649.6 518.0,649.6 518.0,650.3 517.0,650.3 517.0,651.4 515.9,651.4 515.9,651.7 514.1,651.7 514.1,655.3 512.5,655.3 512.5,653.2 511.3,653.2 511.3,653.2 510.0,653.2 510.0,651.7 508.5,651.7 508.5,653.3 506.9,653.3 506.9,653.8 505.1,653.8 505.1,653.9 502.9,653.9 502.9,653.7 501.1,653.7 501.1,660.0 500.1,660.0 500.1,653.4 499.1,653.4 499.1,651.1 497.9,651.1 497.9,653.4 496.1,653.4 496.1,653.2 493.9,653.2 493.9,653.0 492.0,653.0 492.0,651.0 490.4,651.0 490.4,652.0 488.2,652.0 488.2,653.3 486.6,653.3 486.6,652.2 484.9,652.2 484.9,654.0 483.0,654.0 483.0,654.4 481.9,654.4 481.9,654.6 481.1,654.6 481.1,653.9 479.4,653.9 479.4,655.8 477.6,655.8 477.6,658.8 476.4,658.8 476.4,655.0 474.6,655.0 474.6,652.7 472.9,652.7 472.9,653.8 472.1,653.8 472.1,654.7 470.9,654.7 470.9,654.0 469.1,654.0 469.1,656.0 467.4,656.0 467.4,653.2 465.8,653.2 465.8,653.1 463.6,653.1 463.6,651.2 461.9,651.2 461.9,652.8 460.1,652.8 460.1,654.1 457.9,654.1 457.9,654.7 456.0,654.7 456.0,654.0 454.9,654.0 454.9,655.4 454.1,655.4 454.1,658.2 452.7,658.2 452.7,658.2 450.9,658.2 450.9,658.0 449.1,658.0 449.1,656.0 447.4,656.0 447.4,657.9 445.6,657.9 445.6,657.8 443.4,657.8 443.4,660.2 441.6,660.2 441.6,663.6 439.9,663.6 439.9,662.6 437.8,662.6 437.8,661.4 436.1,661.4 436.1,660.9 434.4,660.9 434.4,659.9 432.6,659.9 432.6,665.7 431.1,665.7 431.1,660.4 429.4,660.4 429.4,663.7 427.6,663.7 427.6,663.2 425.6,663.2 425.6,662.4 423.9,662.4 423.9,662.0 422.5,662.0 422.5,661.3 421.6,661.3 421.6,659.2 420.4,659.2 420.4,661.2 418.6,661.2 418.6,659.7 416.4,659.7 416.4,660.3 414.6,660.3 414.6,665.1 413.1,665.1 413.1,661.1 411.6,661.1 411.6,664.3 410.9,664.3 410.9,664.9 410.4,664.9 410.4,664.7 409.9,664.7 409.9,663.9 409.1,663.9 409.1,664.0 407.4,664.0 407.4,662.5 405.6,662.5 405.6,662.8 404.1,662.8 404.1,663.2 401.9,663.2 401.9,665.1 400.1,665.1 400.1,664.5 398.6,664.5 398.6,665.3 396.9,665.3 396.9,667.3 395.5,667.3 395.5,665.7 394.4,665.7 394.4,665.2 393.1,665.2 393.1,667.7 391.5,667.7 391.5,664.2 389.4,664.2 389.4,664.4 387.6,664.4 387.6,664.0 386.1,664.0 386.1,663.5 384.4,663.5 384.4,665.8 383.1,665.8 383.1,665.8 382.1,665.8 382.1,666.4 380.7,666.4 380.7,666.2 378.9,666.2 378.9,666.5 377.5,666.5 377.5,667.7 376.6,667.7 376.6,666.5 375.3,666.5 375.3,670.6 373.4,670.6 373.4,672.3 371.6,672.3 371.6,671.1 369.9,671.1 369.9,673.7 367.9,673.7 367.9,674.1 366.3,674.1 366.3,673.2 364.6,673.2 364.6,671.6 362.4,671.6 362.4,672.4 360.6,672.4 360.6,671.6 359.5,671.6 359.5,671.6 358.6,671.6 358.6,675.2 357.3,675.2 357.3,671.1 355.4,671.1 355.4,670.2 353.6,670.2 353.6,669.3 351.9,669.3 351.9,670.7 350.5,670.7 350.5,672.2 349.6,672.2 349.6,676.5 347.9,676.5 347.9,671.3 346.1,671.3 346.1,670.6 344.7,670.6 344.7,670.9 343.0,670.9 343.0,671.0 341.1,671.0 341.1,671.2 338.9,671.2 338.9,670.9 337.1,670.9 337.1,670.8 336.1,670.8 336.1,669.8 334.4,669.8 334.4,670.6 332.2,670.6 332.2,671.9 329.9,671.9 329.9,671.7 328.1,671.7 328.1,675.2 326.7,675.2 326.7,672.4 324.9,672.4 324.9,672.0 323.6,672.0 323.6,672.9 322.6,672.9 322.6,673.1 321.3,673.1 321.3,672.7 319.5,672.7 319.5,673.7 318.1,673.7 318.1,673.7 316.2,673.7 316.2,673.2 314.6,673.2 314.6,674.7 313.6,674.7 313.6,677.7 312.5,677.7 312.5,675.7 310.8,675.7 310.8,676.6 308.7,676.6 308.7,676.0 307.0,676.0 307.0,677.0 305.2,677.0 305.2,676.9 303.5,676.9 303.5,677.4 301.8,677.4 301.8,677.3 299.5,677.3 299.5,677.6 297.7,677.6 297.7,677.5 296.6,677.5 296.6,678.2 295.6,678.2 295.6,678.4 295.1,678.4 295.1,678.1 293.9,678.1 293.9,676.2 292.1,676.2 292.1,676.1 290.7,676.1 290.7,676.6 289.0,676.6 289.0,676.6 287.2,676.6 287.2,677.3 284.9,677.3 284.9,677.3 283.1,677.3 283.1,677.1 281.7,677.1 281.7,676.4 280.0,676.4 280.0,677.8 278.2,677.8 278.2,676.1 276.5,676.1 276.5,678.0 274.8,678.0 274.8,681.5 273.1,681.5 273.1,683.0 271.4,683.0 271.4,685.9 269.6,685.9 269.6,684.8 268.6,684.8 268.6,683.9 267.5,683.9 267.5,682.3 265.8,682.3 265.8,682.7 263.7,682.7 263.7,681.0 262.0,681.0 262.0,683.8 260.2,683.8 260.2,684.7 257.9,684.7 257.9,685.3 256.1,685.3 256.1,688.2 254.5,688.2 254.5,687.0 252.7,687.0 252.7,687.8 251.0,687.8 251.0,688.9 249.2,688.9 249.2,688.8 247.3,688.8 247.3,688.7 245.5,688.7 245.5,687.8 243.9,687.8 243.9,685.7 242.4,685.7 242.4,687.6 240.7,687.6 240.7,686.3 238.4,686.3 238.4,688.3 236.7,688.3 236.7,689.4 234.9,689.4 234.9,689.4 233.6,689.4 233.6,689.5 232.6,689.5 232.6,690.4 231.3,690.4 231.3,691.6 229.6,691.6 229.6,692.7 227.8,692.7 227.8,692.4 226.0,692.4 226.0,691.5 224.8,691.5 224.8,692.2 223.5,692.2 223.5,693.0 221.8,693.0 221.8,691.1 220.4,691.1 220.4,689.9 219.1,689.9 219.1,690.8 216.9,690.8 216.9,691.3 214.9,691.3 214.9,690.1 213.6,690.1 213.6,691.9 212.1,691.9 212.1,692.8 210.0,692.8 210.0,692.5 208.2,692.5 208.2,692.6 207.3,692.6 207.3,691.8 206.1,691.8 206.1,696.3 204.7,696.3 204.7,693.4 203.3,693.4 203.3,693.5 202.1,693.5 202.1,692.4 200.7,692.4 200.7,693.5 199.4,693.5 199.4,695.2 198.6,695.2 198.6,695.6 197.1,695.6 197.1,694.2 194.9,694.2 194.9,694.5 193.1,694.5 193.1,694.9 191.7,694.9 191.7,696.7 190.1,696.7 190.1,695.4 188.3,695.4 188.3,694.2 186.1,694.2 186.1,694.2 184.3,694.2 184.3,696.6 182.7,696.6 182.7,692.8 181.2,692.8 181.2,692.9 179.4,692.9 179.4,691.0 177.2,691.0 177.2,692.4 175.4,692.4 175.4,696.0 173.7,696.0 173.7,695.9 172.4,695.9 172.4,694.0 171.4,694.0 171.4,694.2 170.1,694.2 170.1,694.5 168.3,694.5 168.3,694.7 166.6,694.7 166.6,697.6 164.8,697.6 164.8,698.1 162.7,698.1 162.7,697.6 160.8,697.6 160.8,697.6 159.4,697.6 159.4,696.7 157.8,696.7 157.8,696.7 155.9,696.7 155.9,695.7 154.8,695.7 Z M716.2,659.0 717.1,659.0 717.1,658.3 719.0,658.3 719.0,659.1 721.0,659.1 721.0,658.2 722.5,658.2 722.5,657.5 723.5,657.5 723.5,658.0 724.5,658.0 724.5,658.3 725.5,658.3 725.5,657.7 726.5,657.7 726.5,659.1 727.5,659.1 727.5,657.0 729.0,657.0 729.0,657.7 731.0,657.7 731.0,657.3 733.0,657.3 733.0,658.8 734.5,658.8 734.5,660.1 735.5,660.1 735.5,662.7 736.9,662.7 736.9,663.7 737.7,663.7 L737.7,683.4 736.9,683.4 736.9,685.1 735.5,685.1 735.5,681.5 734.5,681.5 734.5,681.7 733.0,681.7 733.0,680.4 731.0,680.4 731.0,681.7 729.0,681.7 729.0,682.6 727.5,682.6 727.5,681.3 726.5,681.3 726.5,683.8 725.5,683.8 725.5,682.8 724.5,682.8 724.5,681.2 723.5,681.2 723.5,683.0 722.5,683.0 722.5,683.8 721.0,683.8 721.0,685.5 719.0,685.5 719.0,684.6 717.1,684.6 717.1,682.3 716.2,682.3 Z M745.6,660.7 745.9,660.7 745.9,652.8 746.6,652.8 746.6,653.3 747.5,653.3 747.5,659.7 748.8,659.7 748.8,660.2 750.2,660.2 750.2,657.5 751.5,657.5 751.5,660.9 752.3,660.9 752.3,660.7 753.9,660.7 753.9,661.6 755.2,661.6 755.2,661.4 755.9,661.4 755.9,662.2 757.7,662.2 757.7,661.3 759.5,661.3 759.5,661.9 760.7,661.9 760.7,661.6 762.5,661.6 762.5,661.0 764.0,661.0 764.0,662.4 765.3,662.4 765.3,663.6 766.7,663.6 766.7,664.0 767.4,664.0 767.4,663.4 768.2,663.4 768.2,665.2 769.9,665.2 769.9,666.0 771.4,666.0 771.4,665.4 772.6,665.4 772.6,665.6 773.8,665.6 773.8,665.1 775.3,665.1 775.3,665.8 777.1,665.8 777.1,664.8 778.6,664.8 778.6,665.4 780.4,665.4 780.4,668.8 782.8,668.8 782.8,667.7 784.6,667.7 784.6,667.4 786.4,667.4 786.4,666.5 788.1,666.5 788.1,666.1 789.7,666.1 789.7,668.9 791.5,668.9 791.5,666.7 793.5,666.7 793.5,668.2 795.3,668.2 795.3,669.9 796.9,669.9 796.9,667.9 798.7,667.9 798.7,667.7 800.1,667.7 800.1,666.0 801.2,666.0 801.2,666.3 802.5,666.3 802.5,668.3 804.2,668.3 804.2,668.1 805.9,668.1 805.9,669.6 807.6,669.6 807.6,673.5 808.8,673.5 808.8,673.6 809.2,673.6 809.2,673.0 809.9,673.0 809.9,672.5 811.2,672.5 811.2,673.4 812.9,673.4 812.9,670.6 814.7,670.6 814.7,671.7 817.1,671.7 817.1,672.8 818.9,672.8 818.9,671.5 820.1,671.5 820.1,671.0 821.4,671.0 821.4,669.6 822.5,669.6 822.5,671.5 823.9,671.5 823.9,670.4 825.7,670.4 825.7,671.0 827.2,671.0 827.2,670.7 829.0,670.7 829.0,672.8 831.4,672.8 831.4,670.3 833.2,670.3 833.2,668.3 834.9,668.3 834.9,671.8 836.7,671.8 836.7,674.0 838.5,674.0 838.5,673.6 840.2,673.6 840.2,673.5 841.5,673.5 841.5,673.3 842.3,673.3 842.3,672.6 844.1,672.6 844.1,671.9 845.9,671.9 845.9,669.7 847.1,669.7 847.1,673.8 848.9,673.8 848.9,674.8 850.7,674.8 850.7,675.2 852.0,675.2 852.0,675.4 853.1,675.4 853.1,675.9 854.5,675.9 854.5,671.3 856.3,671.3 856.3,673.7 858.1,673.7 858.1,673.3 859.9,673.3 859.9,674.7 861.6,674.7 861.6,673.3 862.9,673.3 862.9,673.4 863.8,673.4 863.8,673.2 865.2,673.2 865.2,671.4 867.1,671.4 867.1,674.1 868.6,674.1 868.6,674.9 870.4,674.9 870.4,673.6 872.5,673.6 872.5,674.4 874.2,674.4 874.2,672.7 876.0,672.7 876.0,670.0 877.9,670.0 877.9,674.5 880.0,674.5 880.0,675.9 881.8,675.9 881.8,675.1 882.9,675.1 882.9,674.7 883.8,674.7 883.8,673.1 885.1,673.1 885.1,673.0 886.5,673.0 886.5,672.8 888.2,672.8 888.2,673.8 890.6,673.8 890.6,674.9 892.4,674.9 892.4,674.2 894.1,674.2 894.1,673.0 896.0,673.0 896.0,674.2 897.2,674.2 897.2,673.3 898.2,673.3 898.2,673.8 899.5,673.8 899.5,671.4 900.8,671.4 900.8,674.8 901.8,674.8 901.8,677.0 902.9,677.0 902.9,676.4 904.8,676.4 904.8,677.8 906.8,677.8 906.8,678.9 908.8,678.9 908.8,676.6 910.1,676.6 910.1,676.6 910.8,676.6 910.8,673.5 912.1,673.5 912.1,677.1 913.9,677.1 913.9,678.5 915.7,678.5 915.7,678.0 917.0,678.0 917.0,676.6 918.0,676.6 918.0,677.1 919.2,677.1 919.2,675.0 921.0,675.0 921.0,674.7 922.9,674.7 922.9,674.4 924.2,674.4 924.2,673.7 925.2,673.7 925.2,673.1 926.3,673.1 926.3,671.9 928.1,671.9 928.1,672.3 930.5,672.3 930.5,670.6 932.3,670.6 932.3,668.0 933.9,668.0 933.9,670.4 935.7,670.4 935.7,670.8 937.7,670.8 937.7,669.4 939.5,669.4 939.5,669.7 941.0,669.7 941.0,668.0 942.8,668.0 942.8,670.1 944.3,670.1 944.3,668.4 945.6,668.4 945.6,668.1 946.7,668.1 946.7,667.5 948.1,667.5 948.1,667.1 949.5,667.1 949.5,665.6 950.5,665.6 950.5,664.1 952.0,664.1 952.0,662.9 953.2,662.9 953.2,662.0 953.9,662.0 953.9,664.2 955.2,664.2 955.2,661.6 956.5,661.6 956.5,662.0 957.5,662.0 957.5,658.5 959.0,658.5 959.0,660.8 960.8,660.8 960.8,658.5 962.5,658.5 962.5,660.8 964.2,660.8 964.2,660.0 966.0,660.0 966.0,658.1 967.9,658.1 967.9,662.9 969.4,662.9 969.4,663.5 971.2,663.5 971.2,663.3 973.7,663.3 973.7,662.7 975.5,662.7 975.5,662.4 976.9,662.4 976.9,662.7 978.9,662.7 978.9,662.6 980.7,662.6 980.7,659.1 982.3,659.1 982.3,660.6 984.1,660.6 984.1,662.5 985.9,662.5 985.9,662.8 987.7,662.8 987.7,663.4 989.3,663.4 989.3,663.1 991.1,663.1 991.1,661.2 993.1,661.2 993.1,664.4 994.5,664.4 994.5,664.2 996.3,664.2 996.3,665.1 998.3,665.1 998.3,665.0 999.5,665.0 999.5,665.2 1000.6,665.2 1000.6,666.2 1002.1,666.2 1002.1,667.4 1004.0,667.4 1004.0,666.7 1005.8,666.7 1005.8,666.6 1007.5,666.6 1007.5,668.6 1009.2,668.6 1009.2,667.7 1011.0,667.7 1011.0,667.3 1012.9,667.3 1012.9,664.8 1014.4,664.8 1014.4,664.4 1016.2,664.4 1016.2,663.4 1018.2,663.4 1018.2,663.5 1019.5,663.5 1019.5,663.1 1020.5,663.1 1020.5,659.1 1021.5,659.1 1021.5,661.7 1023.5,661.7 1023.5,664.5 1025.7,664.5 1025.7,664.5 1027.2,664.5 1027.2,659.3 1028.5,659.3 1028.5,658.1 1029.5,658.1 1029.5,658.9 1030.9,658.9 1030.9,660.7 1032.4,660.7 1032.4,661.1 1034.2,661.1 1034.2,661.5 1036.7,661.5 1036.7,662.5 1038.5,662.5 1038.5,662.3 1039.9,662.3 1039.9,661.6 1041.9,661.6 1041.9,661.4 1043.5,661.4 1043.5,660.5 1045.0,660.5 1045.0,659.7 1046.5,659.7 1046.5,657.4 1047.5,657.4 1047.5,657.0 1048.5,657.0 1048.5,654.7 1050.3,654.7 1050.3,657.8 1052.3,657.8 1052.3,658.5 1054.1,658.5 1054.1,657.6 1056.1,657.6 1056.1,659.0 1057.9,659.0 1057.9,661.4 1059.4,661.4 1059.4,660.1 1061.0,660.1 1061.0,658.7 1063.0,658.7 1063.0,656.3 1065.0,656.3 1065.0,663.0 1066.5,663.0 1066.5,663.5 1068.3,663.5 1068.3,660.5 1070.3,660.5 1070.3,657.2 1072.0,657.2 1072.0,658.3 1074.0,658.3 1074.0,660.7 1075.9,660.7 1075.9,659.6 1077.4,659.6 1077.4,659.1 1079.0,659.1 1079.0,659.1 1080.0,659.1 L1080.0,680.4 1079.0,680.4 1079.0,681.1 1077.4,681.1 1077.4,679.0 1075.9,679.0 1075.9,681.3 1074.0,681.3 1074.0,681.5 1072.0,681.5 1072.0,681.9 1070.3,681.9 1070.3,682.4 1068.3,682.4 1068.3,683.9 1066.5,683.9 1066.5,685.0 1065.0,685.0 1065.0,683.1 1063.0,683.1 1063.0,683.0 1061.0,683.0 1061.0,682.7 1059.4,682.7 1059.4,686.3 1057.9,686.3 1057.9,681.9 1056.1,681.9 1056.1,678.6 1054.1,678.6 1054.1,679.6 1052.3,679.6 1052.3,679.7 1050.3,679.7 1050.3,679.6 1048.5,679.6 1048.5,679.9 1047.5,679.9 1047.5,679.3 1046.5,679.3 1046.5,681.1 1045.0,681.1 1045.0,685.3 1043.5,685.3 1043.5,685.3 1041.9,685.3 1041.9,688.4 1039.9,688.4 1039.9,685.5 1038.5,685.5 1038.5,684.8 1036.7,684.8 1036.7,683.5 1034.2,683.5 1034.2,683.4 1032.4,683.4 1032.4,683.0 1030.9,683.0 1030.9,685.4 1029.5,685.4 1029.5,685.9 1028.5,685.9 1028.5,686.6 1027.2,686.6 1027.2,685.4 1025.7,685.4 1025.7,684.4 1023.5,684.4 1023.5,684.2 1021.5,684.2 1021.5,682.5 1020.5,682.5 1020.5,683.9 1019.5,683.9 1019.5,684.9 1018.2,684.9 1018.2,685.5 1016.2,685.5 1016.2,686.4 1014.4,686.4 1014.4,685.2 1012.9,685.2 1012.9,688.6 1011.0,688.6 1011.0,689.9 1009.2,689.9 1009.2,693.3 1007.5,693.3 1007.5,692.0 1005.8,692.0 1005.8,688.7 1004.0,688.7 1004.0,688.0 1002.1,688.0 1002.1,690.4 1000.6,690.4 1000.6,689.8 999.5,689.8 999.5,689.3 998.3,689.3 998.3,688.4 996.3,688.4 996.3,686.0 994.5,686.0 994.5,685.5 993.1,685.5 993.1,684.2 991.1,684.2 991.1,682.8 989.3,682.8 989.3,688.3 987.7,688.3 987.7,682.4 985.9,682.4 985.9,683.9 984.1,683.9 984.1,686.2 982.3,686.2 982.3,682.0 980.7,682.0 980.7,684.1 978.9,684.1 978.9,683.5 976.9,683.5 976.9,686.3 975.5,686.3 975.5,685.0 973.7,685.0 973.7,684.9 971.2,684.9 971.2,681.7 969.4,681.7 969.4,679.7 967.9,679.7 967.9,682.6 966.0,682.6 966.0,682.3 964.2,682.3 964.2,681.7 962.5,681.7 962.5,682.3 960.8,682.3 960.8,683.4 959.0,683.4 959.0,682.0 957.5,682.0 957.5,684.0 956.5,684.0 956.5,685.1 955.2,685.1 955.2,684.7 953.9,684.7 953.9,686.9 953.2,686.9 953.2,687.2 952.0,687.2 952.0,693.6 950.5,693.6 950.5,692.0 949.5,692.0 949.5,692.2 948.1,692.2 948.1,694.1 946.7,694.1 946.7,691.8 945.6,691.8 945.6,692.4 944.3,692.4 944.3,692.3 942.8,692.3 942.8,692.9 941.0,692.9 941.0,696.6 939.5,696.6 939.5,693.1 937.7,693.1 937.7,693.0 935.7,693.0 935.7,693.9 933.9,693.9 933.9,694.4 932.3,694.4 932.3,694.7 930.5,694.7 930.5,694.7 928.1,694.7 928.1,695.1 926.3,695.1 926.3,699.5 925.2,699.5 925.2,695.6 924.2,695.6 924.2,696.2 922.9,696.2 922.9,696.7 921.0,696.7 921.0,696.7 919.2,696.7 919.2,697.4 918.0,697.4 918.0,697.4 917.0,697.4 917.0,695.8 915.7,695.8 915.7,700.8 913.9,700.8 913.9,697.5 912.1,697.5 912.1,695.9 910.8,695.9 910.8,697.5 910.1,697.5 910.1,697.4 908.8,697.4 908.8,696.2 906.8,696.2 906.8,697.8 904.8,697.8 904.8,698.2 902.9,698.2 902.9,696.4 901.8,696.4 901.8,697.7 900.8,697.7 900.8,695.6 899.5,695.6 899.5,696.3 898.2,696.3 898.2,697.1 897.2,697.1 897.2,699.7 896.0,699.7 896.0,699.7 894.1,699.7 894.1,701.3 892.4,701.3 892.4,700.2 890.6,700.2 890.6,698.1 888.2,698.1 888.2,698.6 886.5,698.6 886.5,698.9 885.1,698.9 885.1,700.4 883.8,700.4 883.8,700.5 882.9,700.5 882.9,699.5 881.8,699.5 881.8,699.2 880.0,699.2 880.0,698.8 877.9,698.8 877.9,697.4 876.0,697.4 876.0,697.1 874.2,697.1 874.2,696.5 872.5,696.5 872.5,696.6 870.4,696.6 870.4,695.9 868.6,695.9 868.6,694.0 867.1,694.0 867.1,695.6 865.2,695.6 865.2,697.7 863.8,697.7 863.8,703.6 862.9,703.6 862.9,697.5 861.6,697.5 861.6,696.9 859.9,696.9 859.9,697.8 858.1,697.8 858.1,697.8 856.3,697.8 856.3,696.5 854.5,696.5 854.5,699.3 853.1,699.3 853.1,699.3 852.0,699.3 852.0,697.7 850.7,697.7 850.7,696.7 848.9,696.7 848.9,694.6 847.1,694.6 847.1,695.0 845.9,695.0 845.9,695.2 844.1,695.2 844.1,698.0 842.3,698.0 842.3,695.4 841.5,695.4 841.5,697.1 840.2,697.1 840.2,694.5 838.5,694.5 838.5,692.4 836.7,692.4 836.7,693.4 834.9,693.4 834.9,692.4 833.2,692.4 833.2,694.6 831.4,694.6 831.4,693.9 829.0,693.9 829.0,696.7 827.2,696.7 827.2,697.7 825.7,697.7 825.7,694.9 823.9,694.9 823.9,694.9 822.5,694.9 822.5,697.1 821.4,697.1 821.4,696.9 820.1,696.9 820.1,696.2 818.9,696.2 818.9,696.1 817.1,696.1 817.1,694.6 814.7,694.6 814.7,695.4 812.9,695.4 812.9,695.4 811.2,695.4 811.2,695.9 809.9,695.9 809.9,711.4 809.2,711.4 809.2,698.2 808.8,698.2 808.8,695.5 807.6,695.5 807.6,691.9 805.9,691.9 805.9,691.8 804.2,691.8 804.2,690.9 802.5,690.9 802.5,691.3 801.2,691.3 801.2,690.4 800.1,690.4 800.1,690.0 798.7,690.0 798.7,689.5 796.9,689.5 796.9,688.9 795.3,688.9 795.3,689.8 793.5,689.8 793.5,687.9 791.5,687.9 791.5,690.3 789.7,690.3 789.7,691.0 788.1,691.0 788.1,690.7 786.4,690.7 786.4,694.1 784.6,694.1 784.6,690.3 782.8,690.3 782.8,689.0 780.4,689.0 780.4,688.2 778.6,688.2 778.6,689.1 777.1,689.1 777.1,687.6 775.3,687.6 775.3,689.5 773.8,689.5 773.8,689.9 772.6,689.9 772.6,690.6 771.4,690.6 771.4,689.4 769.9,689.4 769.9,692.2 768.2,692.2 768.2,688.9 767.4,688.9 767.4,689.9 766.7,689.9 766.7,695.3 765.3,695.3 765.3,688.3 764.0,688.3 764.0,687.9 762.5,687.9 762.5,689.1 760.7,689.1 760.7,687.7 759.5,687.7 759.5,688.7 757.7,688.7 757.7,685.4 755.9,685.4 755.9,685.6 755.2,685.6 755.2,685.7 753.9,685.7 753.9,683.9 752.3,683.9 752.3,682.8 751.5,682.8 751.5,681.8 750.2,681.8 750.2,684.7 748.8,684.7 748.8,686.1 747.5,686.1 747.5,686.5 746.6,686.5 746.6,687.7 745.9,687.7 745.9,688.0 745.6,688.0 Z" fill="#008000" stroke="#008000" stroke-width="0.6" stroke-linejoin="round"/>
<path d="M708.6,665.9 L716.2,665.9 M737.7,675 L745.6,675" stroke="#008000" stroke-width="2.1" fill="none"/>
<g stroke="#000" stroke-width="1" fill="none">
<path d="M150.5,96 V713 M1080.5,96 V713 M150,96.5 H1081 M150,712.5 H1081"/>
<line x1="150.5" y1="712" x2="150.5" y2="717.86"/><line x1="266.5" y1="712" x2="266.5" y2="717.86"/><line x1="383.5" y1="712" x2="383.5" y2="717.86"/><line x1="499.5" y1="712" x2="499.5" y2="717.86"/><line x1="615.5" y1="712" x2="615.5" y2="717.86"/><line x1="731.5" y1="712" x2="731.5" y2="717.86"/><line x1="848.5" y1="712" x2="848.5" y2="717.86"/><line x1="964.5" y1="712" x2="964.5" y2="717.86"/><line x1="1080.5" y1="712" x2="1080.5" y2="717.86"/><line x1="145.14" y1="712.5" x2="150" y2="712.5"/><line x1="145.14" y1="624.5" x2="150" y2="624.5"/><line x1="145.14" y1="536.5" x2="150" y2="536.5"/><line x1="145.14" y1="448.5" x2="150" y2="448.5"/><line x1="145.14" y1="360.5" x2="150" y2="360.5"/><line x1="145.14" y1="272.5" x2="150" y2="272.5"/><line x1="145.14" y1="184.5" x2="150" y2="184.5"/><line x1="145.14" y1="96.5" x2="150" y2="96.5"/>
</g>
<g font-size="24.44"><text transform="translate(127.69,720.70) scale(0.958,1)">0</text></g><g font-size="24.44"><text transform="translate(127.38,632.70) scale(0.924,1)">2</text></g><g font-size="24.44"><text transform="translate(126.46,544.70) scale(0.958,1)">4</text></g><g font-size="24.44"><text transform="translate(127.38,456.70) scale(0.992,1)">6</text></g><g font-size="24.44"><text transform="translate(127.66,368.70) scale(0.969,1)">8</text></g><g font-size="24.44"><text transform="translate(111.72,280.70) scale(0.915,1)">1</text><text transform="translate(125.69,280.70) scale(0.958,1)">0</text></g><g font-size="24.44"><text transform="translate(111.47,192.70) scale(0.915,1)">1</text><text transform="translate(125.38,192.70) scale(0.924,1)">2</text></g><g font-size="24.44"><text transform="translate(111.49,104.70) scale(0.915,1)">1</text><text transform="translate(125.46,104.70) scale(0.958,1)">4</text></g><g font-size="24.44"><text transform="translate(143.89,739.90) scale(0.958,1)">0</text></g><g font-size="24.44"><text transform="translate(260.46,739.90) scale(0.920,1)">3</text></g><g font-size="24.44"><text transform="translate(376.08,739.90) scale(0.992,1)">6</text></g><g font-size="24.44"><text transform="translate(492.43,739.90) scale(0.990,1)">9</text></g><g font-size="24.44"><text transform="translate(601.88,739.90) scale(0.915,1)">1</text><text transform="translate(615.79,739.90) scale(0.924,1)">2</text></g><g font-size="24.44"><text transform="translate(717.99,739.90) scale(0.915,1)">1</text><text transform="translate(732.24,739.90) scale(0.904,1)">5</text></g><g font-size="24.44"><text transform="translate(834.03,739.90) scale(0.915,1)">1</text><text transform="translate(847.93,739.90) scale(0.969,1)">8</text></g><g font-size="24.44"><text transform="translate(950.71,739.90) scale(0.924,1)">2</text><text transform="translate(965.11,739.90) scale(0.915,1)">1</text></g><g font-size="24.44"><text transform="translate(1066.55,739.90) scale(0.924,1)">2</text><text transform="translate(1080.77,739.90) scale(0.958,1)">4</text></g><g font-size="22.92"><text transform="translate(359.28,87.90) scale(0.887,1)">G</text><text transform="translate(375.72,87.90) scale(0.869,1)">R</text><text transform="translate(390.28,87.90) scale(0.800,1)">E</text><text transform="translate(403.47,87.90) scale(0.800,1)">E</text><text transform="translate(416.55,87.90) scale(0.898,1)">N</text><text transform="translate(432.09,87.90) scale(0.935,1)">L</text><text transform="translate(444.06,87.90) scale(0.916,1)">A</text><text transform="translate(458.57,87.90) scale(0.898,1)">N</text><text transform="translate(474.11,87.90) scale(0.941,1)">D</text><text transform="translate(496.76,87.90) scale(0.966,1)">o</text><text transform="translate(509.40,87.90) scale(1.194,1)">f</text><text transform="translate(523.76,87.90) scale(0.924,1)">2</text><text transform="translate(537.09,87.90) scale(0.958,1)">0</text><text transform="translate(550.32,87.90) scale(0.924,1)">2</text><text transform="translate(563.44,87.90) scale(0.992,1)">6</text><text transform="translate(576.42,87.90) scale(1.102,1)">/</text><text transform="translate(583.97,87.90) scale(0.958,1)">0</text><text transform="translate(597.20,87.90) scale(0.924,1)">2</text><text transform="translate(610.02,87.90) scale(1.102,1)">/</text><text transform="translate(617.51,87.90) scale(0.924,1)">2</text><text transform="translate(630.63,87.90) scale(0.992,1)">6</text><text transform="translate(651.15,87.90) scale(0.919,1)">w</text><text transform="translate(667.86,87.90) scale(0.929,1)">i</text><text transform="translate(673.26,87.90) scale(1.215,1)">t</text><text transform="translate(681.63,87.90) scale(0.987,1)">h</text><text transform="translate(701.26,87.90) scale(1.194,1)">f</text><text transform="translate(708.74,87.90) scale(0.966,1)">o</text><text transform="translate(721.56,87.90) scale(0.912,1)">c</text><text transform="translate(733.08,87.90) scale(0.980,1)">u</text><text transform="translate(746.57,87.90) scale(0.871,1)">s</text><text transform="translate(763.77,87.90) scale(0.912,1)">c</text><text transform="translate(775.21,87.90) scale(0.966,1)">o</text><text transform="translate(787.96,87.90) scale(0.988,1)">d</text><text transform="translate(801.21,87.90) scale(0.982,1)">e</text><text transform="translate(821.39,87.90) scale(1.171,1)">=</text><text transform="translate(844.92,87.90) scale(0.992,1)">6</text><text transform="translate(858.36,87.90) scale(0.924,1)">2</text></g><g font-size="22.92"><text transform="translate(519.02,766.00) scale(0.893,1)">U</text><text transform="translate(534.47,766.00) scale(0.980,1)">n</text><text transform="translate(547.84,766.00) scale(0.929,1)">i</text><text transform="translate(553.64,766.00) scale(0.981,1)">v</text><text transform="translate(565.65,766.00) scale(0.982,1)">e</text><text transform="translate(578.41,766.00) scale(1.165,1)">r</text><text transform="translate(587.45,766.00) scale(0.871,1)">s</text><text transform="translate(598.21,766.00) scale(0.817,1)">a</text><text transform="translate(611.07,766.00) scale(0.929,1)">l</text><text transform="translate(622.41,766.00) scale(0.992,1)">T</text><text transform="translate(635.65,766.00) scale(0.929,1)">i</text><text transform="translate(641.22,766.00) scale(1.036,1)">m</text><text transform="translate(661.44,766.00) scale(0.982,1)">e</text><text transform="translate(680.96,764.61) scale(0.947,0.870)">[</text><text transform="translate(689.19,766.00) scale(0.987,1)">h</text><text transform="translate(703.95,764.61) scale(0.947,0.870)">]</text></g><g font-size="22.92" transform="translate(101.3,469.6) rotate(-90)"><text transform="translate(-0.45,0.00) scale(0.897,1)">Y</text><text transform="translate(10.31,0.00) scale(0.980,1)">-</text><text transform="translate(17.92,0.00) scale(1.194,1)">f</text><text transform="translate(25.63,0.00) scale(0.817,1)">a</text><text transform="translate(38.23,0.00) scale(0.912,1)">c</text><text transform="translate(49.58,0.00) scale(1.215,1)">t</text><text transform="translate(57.85,0.00) scale(0.966,1)">o</text><text transform="translate(70.52,0.00) scale(1.165,1)">r</text><text transform="translate(85.86,-1.39) scale(0.947,0.870)">[</text><text transform="translate(93.96,0.00) scale(0.988,1)">d</text><text transform="translate(107.40,0.00) scale(0.883,1)">B</text><text transform="translate(123.19,-1.39) scale(0.947,0.870)">]</text></g>
<g>
<rect x="918.6" y="104.5" width="153.6" height="51.4" rx="3.33" ry="3.33" fill="#fff" fill-opacity="0.8" stroke="#cccccc" stroke-opacity="0.8" stroke-width="1.39"/>
<line x1="923" y1="116.9" x2="959.1" y2="116.9" stroke="#0000ff" stroke-width="2.1"/>
<line x1="923" y1="140.9" x2="959.1" y2="140.9" stroke="#008000" stroke-width="2.1"/>
<g font-size="17.33"><text transform="translate(981.64,123.00) scale(0.957,1)">5</text><text transform="translate(992.00,123.00) scale(1.014,1)">4</text><text transform="translate(1002.30,123.00) scale(1.040,1)">.</text><text transform="translate(1007.87,123.00) scale(1.014,1)">0</text><text transform="translate(1023.59,123.00) scale(0.959,1)">M</text><text transform="translate(1037.94,123.00) scale(0.956,1)">H</text><text transform="translate(1050.15,123.00) scale(1.030,1)">z</text></g><g font-size="17.33"><text transform="translate(982.12,145.90) scale(0.991,1)">7</text><text transform="translate(992.62,145.90) scale(1.014,1)">4</text><text transform="translate(1002.92,145.90) scale(1.040,1)">.</text><text transform="translate(1008.43,145.90) scale(1.025,1)">8</text><text transform="translate(1024.21,145.90) scale(0.959,1)">M</text><text transform="translate(1038.55,145.90) scale(0.956,1)">H</text><text transform="translate(1050.77,145.90) scale(1.030,1)">z</text></g>
</g>
</svg>
</body></html>
